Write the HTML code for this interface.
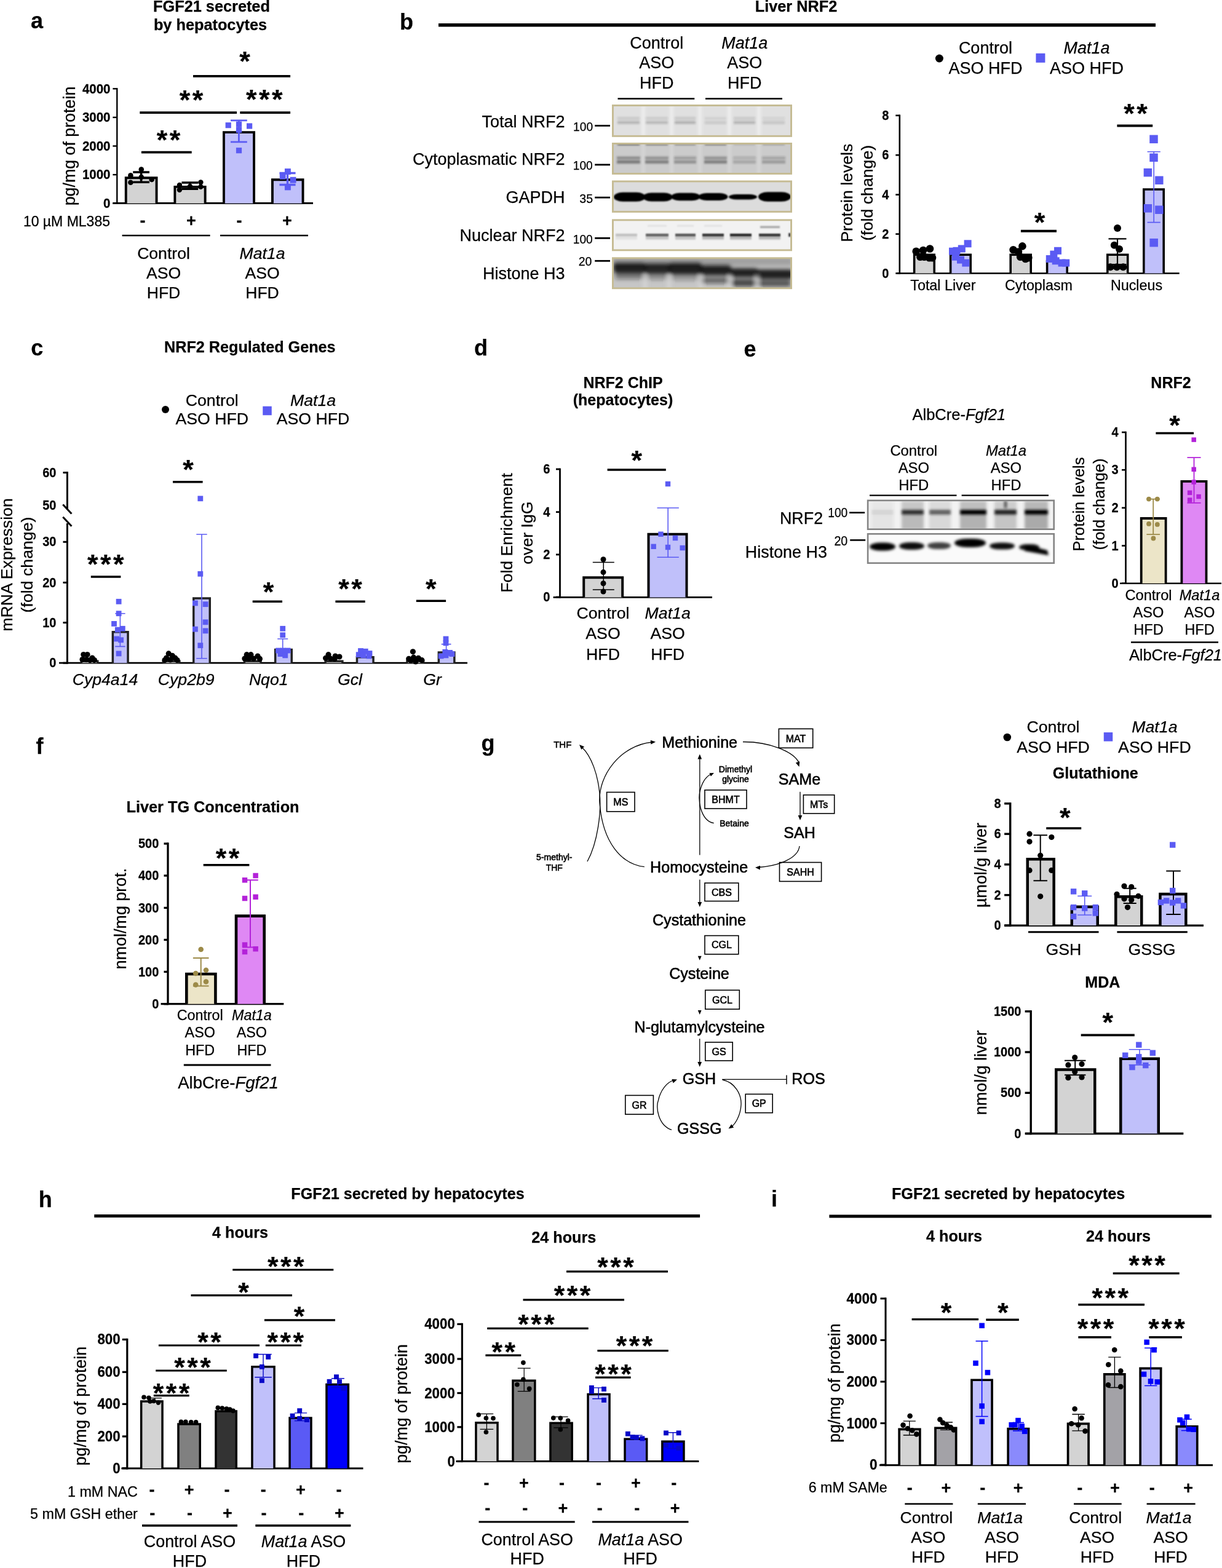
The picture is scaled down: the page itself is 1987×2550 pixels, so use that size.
<!DOCTYPE html>
<html><head><meta charset="utf-8"><title>Figure</title>
<style>html,body{margin:0;padding:0;background:#fff;}svg{display:block;}text{stroke:#000;stroke-width:0.25px;}.pw text{stroke-width:0.6px;}</style></head>
<body><svg width="1987" height="2550" viewBox="0 0 1987 2550" font-family="'Liberation Sans', Arial, Helvetica, sans-serif">
<rect width="1987" height="2550" fill="#fff"/>
<defs>
<filter id="bl2" x="-20%" y="-50%" width="140%" height="200%"><feGaussianBlur stdDeviation="2"/></filter>
<filter id="bl3" x="-20%" y="-50%" width="140%" height="200%"><feGaussianBlur stdDeviation="3"/></filter>
<filter id="bl1" x="-20%" y="-50%" width="140%" height="200%"><feGaussianBlur stdDeviation="1.2"/></filter>
<filter id="bl17" x="-20%" y="-50%" width="140%" height="200%"><feGaussianBlur stdDeviation="1.7"/></filter>
<clipPath id="cb1"><rect x="996.4" y="171.3" width="289.6" height="50.2"/></clipPath>
<clipPath id="cb2"><rect x="996.4" y="233.3" width="289.6" height="49.3"/></clipPath>
<clipPath id="cb3"><rect x="996.4" y="294.8" width="289.6" height="49.7"/></clipPath>
<clipPath id="cb4"><rect x="996.4" y="357.7" width="289.6" height="49.3"/></clipPath>
<clipPath id="cb5"><rect x="996.4" y="419.6" width="289.6" height="49.3"/></clipPath>
<clipPath id="ce1"><rect x="1411.1" y="813.9" width="302.6" height="46.8"/></clipPath>
<clipPath id="ce2"><rect x="1411.1" y="868.3" width="302.6" height="47.4"/></clipPath>
</defs>
<text x="50" y="46" font-size="36" font-weight="bold">a</text>
<text x="344" y="19" font-size="25.3" text-anchor="middle" font-weight="bold">FGF21 secreted</text>
<text x="342" y="49" font-size="25.3" text-anchor="middle" font-weight="bold">by hepatocytes</text>
<line x1="190.3" y1="143.1" x2="190.3" y2="331.9" stroke="#000" stroke-width="2.4"/>
<line x1="183.4" y1="330.7" x2="190.3" y2="330.7" stroke="#000" stroke-width="2.4"/>
<text x="179.5" y="338.08" font-size="20.5" text-anchor="end" font-weight="bold" transform="matrix(1 0 0 1.06 0 -20.28)">0</text>
<line x1="183.4" y1="284.1" x2="190.3" y2="284.1" stroke="#000" stroke-width="2.4"/>
<text x="179.5" y="291.48" font-size="20.5" text-anchor="end" font-weight="bold" transform="matrix(1 0 0 1.06 0 -17.49)">1000</text>
<line x1="183.4" y1="237.5" x2="190.3" y2="237.5" stroke="#000" stroke-width="2.4"/>
<text x="179.5" y="244.88" font-size="20.5" text-anchor="end" font-weight="bold" transform="matrix(1 0 0 1.06 0 -14.69)">2000</text>
<line x1="183.4" y1="190.9" x2="190.3" y2="190.9" stroke="#000" stroke-width="2.4"/>
<text x="179.5" y="198.28" font-size="20.5" text-anchor="end" font-weight="bold" transform="matrix(1 0 0 1.06 0 -11.9)">3000</text>
<line x1="183.4" y1="144.3" x2="190.3" y2="144.3" stroke="#000" stroke-width="2.4"/>
<text x="179.5" y="151.68" font-size="20.5" text-anchor="end" font-weight="bold" transform="matrix(1 0 0 1.06 0 -9.1)">4000</text>
<line x1="183.4" y1="330.5" x2="509" y2="330.5" stroke="#000" stroke-width="2.9"/>
<text x="122.2" y="237.5" font-size="26.8" text-anchor="middle" transform="rotate(-90 122.2 237.5)">pg/mg of protein</text>
<path d="M204.75 330.7V289.25H254.55V330.7" fill="#d3d3d3" stroke="#000" stroke-width="3.9" stroke-linejoin="miter"/>
<path d="M284.35 330.7V303.85H333.65V330.7" fill="#d3d3d3" stroke="#000" stroke-width="3.9" stroke-linejoin="miter"/>
<path d="M363.95 330.7V215.15H413.05V330.7" fill="#c0c0fa" stroke="#000" stroke-width="3.9" stroke-linejoin="miter"/>
<path d="M442.95 330.7V292.25H492.55V330.7" fill="#c0c0fa" stroke="#000" stroke-width="3.9" stroke-linejoin="miter"/>
<path d="M229.6 280V296.2M216.25 280H242.95M216.25 296.2H242.95" stroke="#000" stroke-width="3.6" fill="none"/>
<circle cx="212.4" cy="285.4" r="4.3" fill="#000"/>
<circle cx="229.8" cy="275.5" r="4.3" fill="#000"/>
<circle cx="212.4" cy="296.7" r="4.3" fill="#000"/>
<circle cx="246.7" cy="292" r="4.3" fill="#000"/>
<circle cx="229.8" cy="288" r="4.3" fill="#000"/>
<path d="M308.8 297V307.3M295.4 297H322.2M295.4 307.3H322.2" stroke="#000" stroke-width="3.5" fill="none"/>
<circle cx="291.9" cy="300.9" r="4.2" fill="#000"/>
<circle cx="291.9" cy="308.7" r="4.2" fill="#000"/>
<circle cx="326.4" cy="296.4" r="4.2" fill="#000"/>
<circle cx="326.4" cy="303.7" r="4.2" fill="#000"/>
<circle cx="309" cy="303" r="4.2" fill="#000"/>
<path d="M388.4 195.8V230.9M375 195.8H401.8M375 230.9H401.8" stroke="#5b5bf3" stroke-width="2.8" fill="none"/>
<rect x="366.6" y="199.1" width="9.2" height="9.2" fill="#5b5bf3"/>
<rect x="401" y="200.4" width="9.2" height="9.2" fill="#5b5bf3"/>
<rect x="383.9" y="197.6" width="9.2" height="9.2" fill="#5b5bf3"/>
<rect x="383.9" y="206.8" width="9.2" height="9.2" fill="#5b5bf3"/>
<rect x="383.9" y="240.1" width="9.2" height="9.2" fill="#5b5bf3"/>
<path d="M467.5 281.5V300.5M454.45 281.5H480.55M454.45 300.5H480.55" stroke="#5b5bf3" stroke-width="3.4" fill="none"/>
<rect x="462.95" y="274.05" width="9.9" height="9.9" fill="#5b5bf3"/>
<rect x="454.75" y="281.85" width="9.9" height="9.9" fill="#5b5bf3"/>
<rect x="471.65" y="287.75" width="9.9" height="9.9" fill="#5b5bf3"/>
<rect x="462.95" y="299.45" width="9.9" height="9.9" fill="#5b5bf3"/>
<line x1="229.9" y1="247.7" x2="311.7" y2="247.7" stroke="#000" stroke-width="3.7"/>
<text x="263.4" y="242.65" font-size="45" text-anchor="middle" font-weight="bold">*</text>
<text x="284.4" y="242.65" font-size="45" text-anchor="middle" font-weight="bold">*</text>
<line x1="227.3" y1="183.1" x2="385" y2="183.1" stroke="#000" stroke-width="3.7"/>
<text x="300.5" y="177.75" font-size="45" text-anchor="middle" font-weight="bold">*</text>
<text x="321.5" y="177.75" font-size="45" text-anchor="middle" font-weight="bold">*</text>
<line x1="390.3" y1="183.1" x2="472.1" y2="183.1" stroke="#000" stroke-width="3.7"/>
<text x="408.7" y="177.05" font-size="45" text-anchor="middle" font-weight="bold">*</text>
<text x="429.7" y="177.05" font-size="45" text-anchor="middle" font-weight="bold">*</text>
<text x="450.7" y="177.05" font-size="45" text-anchor="middle" font-weight="bold">*</text>
<line x1="314" y1="123.8" x2="472.1" y2="123.8" stroke="#000" stroke-width="3.7"/>
<text x="397.9" y="115.15" font-size="45" text-anchor="middle" font-weight="bold">*</text>
<text x="179" y="368" font-size="23" text-anchor="end">10 µM ML385</text>
<text x="232" y="368.2" font-size="27" text-anchor="middle" font-weight="bold">-</text>
<text x="311" y="368.2" font-size="27" text-anchor="middle" font-weight="bold">+</text>
<text x="389" y="368.2" font-size="27" text-anchor="middle" font-weight="bold">-</text>
<text x="467" y="368.2" font-size="27" text-anchor="middle" font-weight="bold">+</text>
<line x1="198.6" y1="383" x2="341.6" y2="383" stroke="#000" stroke-width="2.6"/>
<line x1="358" y1="383" x2="501" y2="383" stroke="#000" stroke-width="2.6"/>
<text x="266" y="421" font-size="26.6" text-anchor="middle">Control</text>
<text x="266" y="453" font-size="26.6" text-anchor="middle">ASO</text>
<text x="266" y="485" font-size="26.6" text-anchor="middle">HFD</text>
<text x="426.5" y="421" font-size="26.6" text-anchor="middle" font-style="italic">Mat1a</text>
<text x="426.5" y="453" font-size="26.6" text-anchor="middle">ASO</text>
<text x="426.5" y="485" font-size="26.6" text-anchor="middle">HFD</text>
<text x="650" y="48" font-size="36" font-weight="bold">b</text>
<line x1="713" y1="40.8" x2="1879" y2="40.8" stroke="#000" stroke-width="5.6"/>
<text x="1294.5" y="18.5" font-size="25.3" text-anchor="middle" font-weight="bold">Liver NRF2</text>
<text x="1067.7" y="79.3" font-size="27" text-anchor="middle">Control</text>
<text x="1067.7" y="111.4" font-size="27" text-anchor="middle">ASO</text>
<text x="1067.7" y="143.5" font-size="27" text-anchor="middle">HFD</text>
<text x="1210.8" y="79.3" font-size="27" text-anchor="middle" font-style="italic">Mat1a</text>
<text x="1210.8" y="111.4" font-size="27" text-anchor="middle">ASO</text>
<text x="1210.8" y="143.5" font-size="27" text-anchor="middle">HFD</text>
<line x1="1004.5" y1="160.5" x2="1129.3" y2="160.5" stroke="#000" stroke-width="2.6"/>
<line x1="1147" y1="160.5" x2="1272" y2="160.5" stroke="#000" stroke-width="2.6"/>
<text x="918.6" y="207.4" font-size="27" text-anchor="end">Total NRF2</text>
<text x="918.6" y="267.5" font-size="27" text-anchor="end">Cytoplasmatic NRF2</text>
<text x="918.6" y="329.6" font-size="27" text-anchor="end">GAPDH</text>
<text x="918.6" y="391.6" font-size="27" text-anchor="end">Nuclear NRF2</text>
<text x="918.6" y="453.7" font-size="27" text-anchor="end">Histone H3</text>
<text x="932.1" y="212.5" font-size="21" textLength="32" lengthAdjust="spacingAndGlyphs">100</text>
<line x1="967.2" y1="204.4" x2="992" y2="204.4" stroke="#000" stroke-width="2.8"/>
<text x="931.8" y="276" font-size="21" textLength="32" lengthAdjust="spacingAndGlyphs">100</text>
<line x1="967.2" y1="267.9" x2="992" y2="267.9" stroke="#000" stroke-width="2.8"/>
<text x="942.3" y="329.6" font-size="21" textLength="21.7" lengthAdjust="spacingAndGlyphs">35</text>
<line x1="967.2" y1="321.2" x2="992" y2="321.2" stroke="#000" stroke-width="2.8"/>
<text x="931.8" y="395.5" font-size="21" textLength="32" lengthAdjust="spacingAndGlyphs">100</text>
<line x1="967.2" y1="387.3" x2="992" y2="387.3" stroke="#000" stroke-width="2.8"/>
<text x="940.7" y="432" font-size="21" textLength="21.7" lengthAdjust="spacingAndGlyphs">20</text>
<line x1="967.2" y1="424.3" x2="992" y2="424.3" stroke="#000" stroke-width="2.8"/>
<rect x="996.4" y="171.3" width="289.6" height="50.2" fill="#e0e0e0"/>
<rect x="996.4" y="233.3" width="289.6" height="49.3" fill="#cbcbcb"/>
<rect x="996.4" y="294.8" width="289.6" height="49.7" fill="#dcdcdc"/>
<rect x="996.4" y="357.7" width="289.6" height="49.3" fill="#f2f2f2"/>
<rect x="996.4" y="419.6" width="289.6" height="49.3" fill="#c6c6c6"/>
<g clip-path="url(#cb1)"><g filter="url(#bl2)">
<rect x="1043" y="172" width="6" height="50" fill="#ededed"/>
<rect x="1089" y="172" width="6" height="50" fill="#ededed"/>
<rect x="1135" y="172" width="6" height="50" fill="#ededed"/>
<rect x="1183" y="172" width="6" height="50" fill="#ededed"/>
<rect x="1231" y="172" width="6" height="50" fill="#ededed"/>
</g><g filter="url(#bl17)">
<rect x="1004" y="190.5" width="36" height="4" fill="rgba(40,40,40,0.14)"/>
<rect x="1004" y="197" width="36" height="4.5" fill="rgba(40,40,40,0.23800000000000002)"/>
<rect x="1050" y="190.5" width="36" height="4" fill="rgba(40,40,40,0.13)"/>
<rect x="1050" y="197" width="36" height="4.5" fill="rgba(40,40,40,0.221)"/>
<rect x="1097" y="190.5" width="34" height="4" fill="rgba(40,40,40,0.15)"/>
<rect x="1097" y="197" width="34" height="4.5" fill="rgba(40,40,40,0.255)"/>
<rect x="1146" y="190.5" width="35" height="4" fill="rgba(40,40,40,0.08)"/>
<rect x="1146" y="197" width="35" height="4.5" fill="rgba(40,40,40,0.136)"/>
<rect x="1193" y="190.5" width="35" height="4" fill="rgba(40,40,40,0.14)"/>
<rect x="1193" y="197" width="35" height="4.5" fill="rgba(40,40,40,0.23800000000000002)"/>
<rect x="1240" y="190.5" width="36" height="4" fill="rgba(40,40,40,0.09)"/>
<rect x="1240" y="197" width="36" height="4.5" fill="rgba(40,40,40,0.153)"/>
</g></g>
<g clip-path="url(#cb2)"><g filter="url(#bl2)">
<rect x="1043" y="234" width="6" height="50" fill="#d4d4d4"/>
<rect x="1089" y="234" width="6" height="50" fill="#d4d4d4"/>
<rect x="1135" y="234" width="6" height="50" fill="#d4d4d4"/>
<rect x="1183" y="234" width="6" height="50" fill="#d4d4d4"/>
<rect x="1231" y="234" width="6" height="50" fill="#d4d4d4"/>
</g><g filter="url(#bl17)">
<rect x="1004" y="233" width="36" height="3" fill="rgba(20,20,20,0.6)"/>
<rect x="1003" y="254.5" width="38" height="4.5" fill="rgba(40,40,40,0.4)"/>
<rect x="1003" y="260.5" width="38" height="5.5" fill="rgba(40,40,40,0.5)"/>
<rect x="1050" y="233" width="36" height="3" fill="rgba(20,20,20,0.5)"/>
<rect x="1049" y="254.5" width="38" height="4.5" fill="rgba(40,40,40,0.36000000000000004)"/>
<rect x="1049" y="260.5" width="38" height="5.5" fill="rgba(40,40,40,0.45)"/>
<rect x="1097" y="233" width="34" height="3" fill="rgba(20,20,20,0.4)"/>
<rect x="1096" y="254.5" width="36" height="4.5" fill="rgba(40,40,40,0.27999999999999997)"/>
<rect x="1096" y="260.5" width="36" height="5.5" fill="rgba(40,40,40,0.35)"/>
<rect x="1146" y="233" width="35" height="3" fill="rgba(20,20,20,0.5)"/>
<rect x="1145" y="254.5" width="37" height="4.5" fill="rgba(40,40,40,0.36000000000000004)"/>
<rect x="1145" y="260.5" width="37" height="5.5" fill="rgba(40,40,40,0.45)"/>
<rect x="1193" y="233" width="35" height="3" fill="rgba(20,20,20,0.15)"/>
<rect x="1192" y="254.5" width="37" height="4.5" fill="rgba(40,40,40,0.17600000000000002)"/>
<rect x="1192" y="260.5" width="37" height="5.5" fill="rgba(40,40,40,0.22)"/>
<rect x="1240" y="233" width="36" height="3" fill="rgba(20,20,20,0.25)"/>
<rect x="1239" y="254.5" width="38" height="4.5" fill="rgba(40,40,40,0.24)"/>
<rect x="1239" y="260.5" width="38" height="5.5" fill="rgba(40,40,40,0.3)"/>
</g></g>
<g clip-path="url(#cb3)"><g filter="url(#bl1)">
<rect x="998" y="312.8" width="51.5" height="15" rx="14.714285714285714" ry="7.5" fill="#000"/>
<rect x="1045.5" y="313.5" width="48.0" height="14" rx="13.714285714285714" ry="7.0" fill="#000"/>
<rect x="1091.5" y="313.75" width="47.0" height="12.5" rx="13.428571428571429" ry="6.25" fill="#000"/>
<rect x="1135.5" y="314.0" width="48.0" height="12" rx="13.714285714285714" ry="6.0" fill="#000"/>
<rect x="1185" y="316.05" width="46" height="8.5" rx="13.142857142857142" ry="4.25" fill="#000"/>
<rect x="1233" y="312.25" width="53" height="15.5" rx="15.142857142857142" ry="7.75" fill="#000"/>
</g></g>
<g clip-path="url(#cb4)"><g filter="url(#bl1)">
<rect x="1001" y="380" width="35" height="4.5" fill="rgba(0,0,0,0.2)"/>
<rect x="1001" y="385" width="35" height="4.5" fill="rgba(40,40,40,0.06999999999999999)"/>
<rect x="1050" y="380" width="37" height="4.5" fill="rgba(0,0,0,0.6)"/>
<rect x="1050" y="385" width="37" height="4.5" fill="rgba(40,40,40,0.21)"/>
<rect x="1053" y="366" width="31" height="2.5" fill="rgba(0,0,0,0.08)"/>
<rect x="1098" y="380" width="33" height="4.5" fill="rgba(0,0,0,0.65)"/>
<rect x="1098" y="385" width="33" height="4.5" fill="rgba(40,40,40,0.22749999999999998)"/>
<rect x="1101" y="366" width="27" height="2.5" fill="rgba(0,0,0,0.08)"/>
<rect x="1142" y="380" width="35" height="4.5" fill="rgba(0,0,0,0.8)"/>
<rect x="1142" y="385" width="35" height="4.5" fill="rgba(40,40,40,0.27999999999999997)"/>
<rect x="1145" y="366" width="29" height="2.5" fill="rgba(0,0,0,0.08)"/>
<rect x="1187" y="380" width="35" height="4.5" fill="rgba(0,0,0,0.85)"/>
<rect x="1187" y="385" width="35" height="4.5" fill="rgba(40,40,40,0.2975)"/>
<rect x="1234" y="380" width="35" height="4.5" fill="rgba(0,0,0,0.8)"/>
<rect x="1234" y="385" width="35" height="4.5" fill="rgba(40,40,40,0.27999999999999997)"/>
<rect x="1236" y="367.5" width="32" height="3.5" fill="rgba(0,0,0,0.3)"/>
<rect x="1282" y="379" width="5" height="6" fill="rgba(0,0,0,0.7)"/>
</g></g>
<g clip-path="url(#cb5)"><g filter="url(#bl3)">
<rect x="996" y="418" width="292" height="14" fill="rgba(90,90,90,0.35)"/>
<rect x="997" y="427" width="53" height="17" rx="5" fill="rgba(10,10,10,0.9)"/>
<rect x="1047" y="428" width="43" height="17" rx="5" fill="rgba(10,10,10,0.88)"/>
<rect x="1087" y="427" width="54" height="19" rx="5" fill="rgba(10,10,10,0.9)"/>
<rect x="1138" y="431" width="51" height="17" rx="5" fill="rgba(10,10,10,0.9)"/>
<rect x="1187" y="436" width="46" height="15" rx="5" fill="rgba(10,10,10,0.9)"/>
<rect x="1230" y="438" width="60" height="16" rx="5" fill="rgba(10,10,10,0.9)"/>
<rect x="1000" y="444" width="48" height="10" rx="4" fill="rgba(20,20,20,0.45)"/>
<rect x="1050" y="445" width="37" height="10" rx="4" fill="rgba(20,20,20,0.35)"/>
<rect x="1090" y="446" width="48" height="10" rx="4" fill="rgba(20,20,20,0.3)"/>
<rect x="1140" y="451" width="46" height="10" rx="4" fill="rgba(20,20,20,0.55)"/>
<rect x="1189" y="454" width="41" height="12" rx="4" fill="rgba(20,20,20,0.7)"/>
<rect x="1232" y="456" width="54" height="10" rx="4" fill="rgba(20,20,20,0.65)"/>
<rect x="1046" y="448" width="6" height="24" fill="rgba(230,230,230,0.5)"/>
<rect x="1085" y="448" width="6" height="24" fill="rgba(230,230,230,0.5)"/>
<rect x="1136" y="448" width="6" height="24" fill="rgba(230,230,230,0.5)"/>
<rect x="1184" y="448" width="6" height="24" fill="rgba(230,230,230,0.5)"/>
<rect x="1228" y="448" width="6" height="24" fill="rgba(230,230,230,0.5)"/>
</g></g>
<rect x="996.45" y="171.45" width="290.1" height="49.9" fill="none" stroke="#c5bb93" stroke-width="2.9"/>
<rect x="996.45" y="233.45" width="290.1" height="49" fill="none" stroke="#c5bb93" stroke-width="2.9"/>
<rect x="996.45" y="294.95" width="290.1" height="49.4" fill="none" stroke="#c5bb93" stroke-width="2.9"/>
<rect x="996.45" y="357.85" width="290.1" height="49" fill="none" stroke="#c5bb93" stroke-width="2.9"/>
<rect x="996.45" y="419.75" width="290.1" height="49" fill="none" stroke="#c5bb93" stroke-width="2.9"/>
<circle cx="1527.4" cy="95" r="6.5" fill="#000"/>
<text x="1602.4" y="87.2" font-size="27" text-anchor="middle">Control</text>
<text x="1602.4" y="119.7" font-size="27" text-anchor="middle">ASO HFD</text>
<rect x="1684.4" y="86.8" width="15" height="15" fill="#5b5bf3"/>
<text x="1767" y="87.2" font-size="27" text-anchor="middle" font-style="italic">Mat1a</text>
<text x="1767" y="119.7" font-size="27" text-anchor="middle">ASO HFD</text>
<line x1="1462.8" y1="186.5" x2="1462.8" y2="445.8" stroke="#000" stroke-width="2.6"/>
<line x1="1456.3" y1="444.5" x2="1462.8" y2="444.5" stroke="#000" stroke-width="2.6"/>
<text x="1445.4" y="451.7" font-size="20" text-anchor="end" font-weight="bold" transform="matrix(1 0 0 1.06 0 -27.1)">0</text>
<line x1="1456.3" y1="380.6" x2="1462.8" y2="380.6" stroke="#000" stroke-width="2.6"/>
<text x="1445.4" y="387.8" font-size="20" text-anchor="end" font-weight="bold" transform="matrix(1 0 0 1.06 0 -23.27)">2</text>
<line x1="1456.3" y1="316.6" x2="1462.8" y2="316.6" stroke="#000" stroke-width="2.6"/>
<text x="1445.4" y="323.8" font-size="20" text-anchor="end" font-weight="bold" transform="matrix(1 0 0 1.06 0 -19.43)">4</text>
<line x1="1456.3" y1="252.2" x2="1462.8" y2="252.2" stroke="#000" stroke-width="2.6"/>
<text x="1445.4" y="259.4" font-size="20" text-anchor="end" font-weight="bold" transform="matrix(1 0 0 1.06 0 -15.56)">6</text>
<line x1="1456.3" y1="187.8" x2="1462.8" y2="187.8" stroke="#000" stroke-width="2.6"/>
<text x="1445.4" y="195" font-size="20" text-anchor="end" font-weight="bold" transform="matrix(1 0 0 1.06 0 -11.7)">8</text>
<line x1="1458.6" y1="444.5" x2="1917.7" y2="444.5" stroke="#000" stroke-width="2.6"/>
<text x="1386" y="313.7" font-size="26.7" text-anchor="middle" transform="rotate(-90 1386 313.7)">Protein levels</text>
<text x="1419" y="313.7" font-size="26.7" text-anchor="middle" transform="rotate(-90 1419 313.7)">(fold change)</text>
<text x="1533.4" y="471.5" font-size="23.3" text-anchor="middle">Total Liver</text>
<text x="1689" y="471.5" font-size="23.3" text-anchor="middle">Cytoplasm</text>
<text x="1848" y="471.5" font-size="23.3" text-anchor="middle">Nucleus</text>
<path d="M1486.6 444.5V414.3H1519.2V444.5" fill="#d3d3d3" stroke="#000" stroke-width="3.6" stroke-linejoin="miter"/>
<path d="M1545.6 444.5V414.3H1578.2V444.5" fill="#c0c0fa" stroke="#000" stroke-width="3.6" stroke-linejoin="miter"/>
<path d="M1643.2 444.5V414.3H1676.2V444.5" fill="#d3d3d3" stroke="#000" stroke-width="3.6" stroke-linejoin="miter"/>
<path d="M1702.6 444.5V424.8H1735.2V444.5" fill="#c0c0fa" stroke="#000" stroke-width="3.6" stroke-linejoin="miter"/>
<path d="M1800.8 444.5V414.3H1833.7V444.5" fill="#d3d3d3" stroke="#000" stroke-width="3.6" stroke-linejoin="miter"/>
<path d="M1859.8 444.5V308H1892.2V444.5" fill="#c0c0fa" stroke="#000" stroke-width="3.6" stroke-linejoin="miter"/>
<circle cx="1489.7" cy="408.7" r="6.3" fill="#000"/>
<circle cx="1496.3" cy="417.7" r="6.3" fill="#000"/>
<circle cx="1501.2" cy="407" r="6.3" fill="#000"/>
<circle cx="1502.9" cy="417.7" r="6.3" fill="#000"/>
<circle cx="1512" cy="404.5" r="6.3" fill="#000"/>
<circle cx="1511" cy="419.3" r="6.3" fill="#000"/>
<circle cx="1516" cy="419.3" r="6.3" fill="#000"/>
<rect x="1543" y="402.7" width="12" height="12" fill="#5b5bf3"/>
<rect x="1549.5" y="401.8" width="12" height="12" fill="#5b5bf3"/>
<rect x="1557.8" y="398.5" width="12" height="12" fill="#5b5bf3"/>
<rect x="1567.6" y="390.3" width="12" height="12" fill="#5b5bf3"/>
<rect x="1547.9" y="411.7" width="12" height="12" fill="#5b5bf3"/>
<rect x="1556" y="416.6" width="12" height="12" fill="#5b5bf3"/>
<rect x="1564.3" y="421.6" width="12" height="12" fill="#5b5bf3"/>
<circle cx="1647.6" cy="406.2" r="6.3" fill="#000"/>
<circle cx="1655.9" cy="409.5" r="6.3" fill="#000"/>
<circle cx="1662.4" cy="400.4" r="6.3" fill="#000"/>
<circle cx="1659.1" cy="417.7" r="6.3" fill="#000"/>
<circle cx="1667.4" cy="421" r="6.3" fill="#000"/>
<circle cx="1672.3" cy="419.3" r="6.3" fill="#000"/>
<rect x="1714" y="401.8" width="12" height="12" fill="#5b5bf3"/>
<rect x="1707.4" y="407.6" width="12" height="12" fill="#5b5bf3"/>
<rect x="1700.8" y="415" width="12" height="12" fill="#5b5bf3"/>
<rect x="1710.7" y="418.3" width="12" height="12" fill="#5b5bf3"/>
<rect x="1720.6" y="421.6" width="12" height="12" fill="#5b5bf3"/>
<rect x="1727.2" y="421.6" width="12" height="12" fill="#5b5bf3"/>
<path d="M1817 388.4V430M1802.5 388.4H1831.5M1802.5 430H1831.5" stroke="#000" stroke-width="2.2" fill="none"/>
<circle cx="1817" cy="371" r="6" fill="#000"/>
<circle cx="1811.8" cy="398.8" r="6" fill="#000"/>
<circle cx="1820" cy="405" r="6" fill="#000"/>
<circle cx="1805.5" cy="434.2" r="6" fill="#000"/>
<circle cx="1816" cy="434.2" r="6" fill="#000"/>
<circle cx="1826.3" cy="434.2" r="6" fill="#000"/>
<path d="M1876.2 246.7V361.6M1865.6 246.7H1886.8M1865.6 361.6H1886.8" stroke="#5b5bf3" stroke-width="1.6" fill="none"/>
<rect x="1869.25" y="219.55" width="13.5" height="13.5" fill="#5b5bf3"/>
<rect x="1869.25" y="249.55" width="13.5" height="13.5" fill="#5b5bf3"/>
<rect x="1859.65" y="273.85" width="13.5" height="13.5" fill="#5b5bf3"/>
<rect x="1878.05" y="286.45" width="13.5" height="13.5" fill="#5b5bf3"/>
<rect x="1859.65" y="332.05" width="13.5" height="13.5" fill="#5b5bf3"/>
<rect x="1878.05" y="334.45" width="13.5" height="13.5" fill="#5b5bf3"/>
<rect x="1869.45" y="387.95" width="13.5" height="13.5" fill="#5b5bf3"/>
<line x1="1659.9" y1="375.7" x2="1718" y2="375.7" stroke="#000" stroke-width="4"/>
<text x="1690.6" y="376.65" font-size="45" text-anchor="middle" font-weight="bold">*</text>
<line x1="1816.4" y1="204.4" x2="1874.2" y2="204.4" stroke="#000" stroke-width="4"/>
<text x="1835.9" y="200.45" font-size="45" text-anchor="middle" font-weight="bold">*</text>
<text x="1856.9" y="200.45" font-size="45" text-anchor="middle" font-weight="bold">*</text>
<text x="50.2" y="577.5" font-size="36" font-weight="bold">c</text>
<text x="406.3" y="573.3" font-size="25.2" text-anchor="middle" font-weight="bold">NRF2 Regulated Genes</text>
<circle cx="269" cy="666" r="6" fill="#000"/>
<text x="344.7" y="659.5" font-size="26.7" text-anchor="middle">Control</text>
<text x="344.7" y="690" font-size="26.7" text-anchor="middle">ASO HFD</text>
<rect x="427.25" y="660.75" width="14.5" height="14.5" fill="#5b5bf3"/>
<text x="509" y="659.5" font-size="26.7" text-anchor="middle" font-style="italic">Mat1a</text>
<text x="509" y="690" font-size="26.7" text-anchor="middle">ASO HFD</text>
<line x1="109.4" y1="767.1" x2="109.4" y2="829" stroke="#000" stroke-width="3"/>
<line x1="109.4" y1="851" x2="109.4" y2="1079.7" stroke="#000" stroke-width="3"/>
<line x1="102.5" y1="768.6" x2="109.4" y2="768.6" stroke="#000" stroke-width="3"/>
<text x="91.5" y="775.8" font-size="20" text-anchor="end" font-weight="bold" transform="matrix(1 0 0 1.06 0 -46.55)">60</text>
<text x="91.5" y="829.5" font-size="20" text-anchor="end" font-weight="bold" transform="matrix(1 0 0 1.06 0 -49.77)">50</text>
<line x1="102.5" y1="881.3" x2="109.4" y2="881.3" stroke="#000" stroke-width="3"/>
<text x="91.5" y="888.5" font-size="20" text-anchor="end" font-weight="bold" transform="matrix(1 0 0 1.06 0 -53.31)">30</text>
<line x1="102.5" y1="947.4" x2="109.4" y2="947.4" stroke="#000" stroke-width="3"/>
<text x="91.5" y="954.6" font-size="20" text-anchor="end" font-weight="bold" transform="matrix(1 0 0 1.06 0 -57.28)">20</text>
<line x1="102.5" y1="1012.6" x2="109.4" y2="1012.6" stroke="#000" stroke-width="3"/>
<text x="91.5" y="1019.8" font-size="20" text-anchor="end" font-weight="bold" transform="matrix(1 0 0 1.06 0 -61.19)">10</text>
<line x1="102.5" y1="1078.2" x2="109.4" y2="1078.2" stroke="#000" stroke-width="3"/>
<text x="91.5" y="1085.4" font-size="20" text-anchor="end" font-weight="bold" transform="matrix(1 0 0 1.06 0 -65.12)">0</text>
<line x1="102.3" y1="820.5" x2="116.4" y2="835.5" stroke="#000" stroke-width="3"/>
<line x1="102.3" y1="840.8" x2="116.4" y2="855.8" stroke="#000" stroke-width="3"/>
<line x1="96" y1="1078.2" x2="760" y2="1078.2" stroke="#000" stroke-width="2.8"/>
<text x="20" y="918.5" font-size="26.7" text-anchor="middle" transform="rotate(-90 20 918.5)">mRNA Expression</text>
<text x="53" y="918.5" font-size="26.7" text-anchor="middle" transform="rotate(-90 53 918.5)">(fold change)</text>
<path d="M132.25 1078.2V1075.25H158.75V1078.2" fill="#d3d3d3" stroke="#222" stroke-width="3.5" stroke-linejoin="miter"/>
<path d="M183.35 1078.2V1027.65H208.05V1078.2" fill="#c0c0fa" stroke="#222" stroke-width="3.5" stroke-linejoin="miter"/>
<path d="M265.35 1078.2V1075.25H291.85V1078.2" fill="#d3d3d3" stroke="#222" stroke-width="3.5" stroke-linejoin="miter"/>
<path d="M314.75 1078.2V972.95H341.25V1078.2" fill="#c0c0fa" stroke="#222" stroke-width="3.5" stroke-linejoin="miter"/>
<path d="M397.35 1078.2V1075.25H424.05V1078.2" fill="#d3d3d3" stroke="#222" stroke-width="3.5" stroke-linejoin="miter"/>
<path d="M447.65 1078.2V1056.45H474.25V1078.2" fill="#c0c0fa" stroke="#222" stroke-width="3.5" stroke-linejoin="miter"/>
<path d="M529.15 1078.2V1075.25H556.85V1078.2" fill="#d3d3d3" stroke="#222" stroke-width="3.5" stroke-linejoin="miter"/>
<path d="M580.45 1078.2V1068.75H607.05V1078.2" fill="#c0c0fa" stroke="#222" stroke-width="3.5" stroke-linejoin="miter"/>
<path d="M661.95 1078.2V1075.25H688.55V1078.2" fill="#d3d3d3" stroke="#222" stroke-width="3.5" stroke-linejoin="miter"/>
<path d="M713.35 1078.2V1060.95H738.85V1078.2" fill="#c0c0fa" stroke="#222" stroke-width="3.5" stroke-linejoin="miter"/>
<text x="171" y="1114" font-size="26.6" text-anchor="middle" font-style="italic">Cyp4a14</text>
<text x="302.7" y="1114" font-size="26.6" text-anchor="middle" font-style="italic">Cyp2b9</text>
<text x="436.7" y="1114" font-size="26.6" text-anchor="middle" font-style="italic">Nqo1</text>
<text x="569" y="1114" font-size="26.6" text-anchor="middle" font-style="italic">Gcl</text>
<text x="703" y="1114" font-size="26.6" text-anchor="middle" font-style="italic">Gr</text>
<circle cx="135.8" cy="1064.6" r="4.6" fill="#000"/>
<circle cx="142" cy="1064.6" r="4.6" fill="#000"/>
<circle cx="150" cy="1070" r="4.6" fill="#000"/>
<circle cx="134" cy="1072.6" r="4.6" fill="#000"/>
<circle cx="140.2" cy="1072.6" r="4.6" fill="#000"/>
<circle cx="146.4" cy="1073.5" r="4.6" fill="#000"/>
<circle cx="153.4" cy="1073.5" r="4.6" fill="#000"/>
<circle cx="274.2" cy="1062.9" r="4.6" fill="#000"/>
<circle cx="280.3" cy="1066.4" r="4.6" fill="#000"/>
<circle cx="284.7" cy="1070" r="4.6" fill="#000"/>
<circle cx="270.6" cy="1070" r="4.6" fill="#000"/>
<circle cx="277" cy="1073" r="4.6" fill="#000"/>
<circle cx="288" cy="1073.5" r="4.6" fill="#000"/>
<circle cx="268" cy="1073.5" r="4.6" fill="#000"/>
<circle cx="401.2" cy="1064.7" r="4.6" fill="#000"/>
<circle cx="407.9" cy="1064.7" r="4.6" fill="#000"/>
<circle cx="419" cy="1067" r="4.6" fill="#000"/>
<circle cx="397.9" cy="1071" r="4.6" fill="#000"/>
<circle cx="404.6" cy="1071" r="4.6" fill="#000"/>
<circle cx="412.4" cy="1071" r="4.6" fill="#000"/>
<circle cx="422.4" cy="1071.4" r="4.6" fill="#000"/>
<circle cx="534" cy="1064.7" r="4.6" fill="#000"/>
<circle cx="545.2" cy="1067" r="4.6" fill="#000"/>
<circle cx="551.9" cy="1068" r="4.6" fill="#000"/>
<circle cx="529.6" cy="1070.3" r="4.6" fill="#000"/>
<circle cx="537.4" cy="1071" r="4.6" fill="#000"/>
<circle cx="544.1" cy="1071.4" r="4.6" fill="#000"/>
<circle cx="671.4" cy="1059.8" r="4.6" fill="#000"/>
<circle cx="664.7" cy="1071.4" r="4.6" fill="#000"/>
<circle cx="672.5" cy="1069.2" r="4.6" fill="#000"/>
<circle cx="680.3" cy="1070.3" r="4.6" fill="#000"/>
<circle cx="685.9" cy="1073.7" r="4.6" fill="#000"/>
<circle cx="675.8" cy="1075.9" r="4.6" fill="#000"/>
<circle cx="668" cy="1074" r="4.6" fill="#000"/>
<path d="M195.4 997.7V1051.4M187.2 997.7H203.6M187.2 1051.4H203.6" stroke="#5b5bf3" stroke-width="1.6" fill="none"/>
<rect x="188.7" y="973.9" width="8.8" height="8.8" fill="#5b5bf3"/>
<rect x="188.7" y="993.3" width="8.8" height="8.8" fill="#5b5bf3"/>
<rect x="181.1" y="1010" width="8.8" height="8.8" fill="#5b5bf3"/>
<rect x="194.9" y="1017.9" width="8.8" height="8.8" fill="#5b5bf3"/>
<rect x="186.9" y="1019.7" width="8.8" height="8.8" fill="#5b5bf3"/>
<rect x="185.2" y="1034.6" width="8.8" height="8.8" fill="#5b5bf3"/>
<rect x="192.2" y="1036.4" width="8.8" height="8.8" fill="#5b5bf3"/>
<rect x="188.7" y="1058.5" width="8.8" height="8.8" fill="#5b5bf3"/>
<path d="M328 869V1070.8M319.3 869H336.7M319.3 1070.8H336.7" stroke="#5b5bf3" stroke-width="1.6" fill="none"/>
<rect x="321.4" y="806.4" width="8.8" height="8.8" fill="#5b5bf3"/>
<rect x="321.4" y="928.9" width="8.8" height="8.8" fill="#5b5bf3"/>
<rect x="313" y="976.5" width="8.8" height="8.8" fill="#5b5bf3"/>
<rect x="329.7" y="978.3" width="8.8" height="8.8" fill="#5b5bf3"/>
<rect x="329.7" y="1007.4" width="8.8" height="8.8" fill="#5b5bf3"/>
<rect x="313" y="1018.8" width="8.8" height="8.8" fill="#5b5bf3"/>
<rect x="329.7" y="1021.5" width="8.8" height="8.8" fill="#5b5bf3"/>
<rect x="321.4" y="1045.3" width="8.8" height="8.8" fill="#5b5bf3"/>
<path d="M459.7 1039V1062M451.2 1039H468.2M451.2 1062H468.2" stroke="#5b5bf3" stroke-width="1.6" fill="none"/>
<rect x="455.3" y="1017.9" width="8.8" height="8.8" fill="#5b5bf3"/>
<rect x="455.3" y="1028.4" width="8.8" height="8.8" fill="#5b5bf3"/>
<rect x="448.2" y="1053.6" width="8.8" height="8.8" fill="#5b5bf3"/>
<rect x="456" y="1053.6" width="8.8" height="8.8" fill="#5b5bf3"/>
<rect x="463.8" y="1053.6" width="8.8" height="8.8" fill="#5b5bf3"/>
<rect x="451.5" y="1059.2" width="8.8" height="8.8" fill="#5b5bf3"/>
<rect x="459.3" y="1061.5" width="8.8" height="8.8" fill="#5b5bf3"/>
<rect x="582.1" y="1054.1" width="8.8" height="8.8" fill="#5b5bf3"/>
<rect x="589.9" y="1054.8" width="8.8" height="8.8" fill="#5b5bf3"/>
<rect x="596.6" y="1058.1" width="8.8" height="8.8" fill="#5b5bf3"/>
<rect x="578.8" y="1060.3" width="8.8" height="8.8" fill="#5b5bf3"/>
<rect x="586.6" y="1061.5" width="8.8" height="8.8" fill="#5b5bf3"/>
<rect x="595.5" y="1062.6" width="8.8" height="8.8" fill="#5b5bf3"/>
<path d="M725.6 1047.6V1066M717.75 1047.6H733.45M717.75 1066H733.45" stroke="#5b5bf3" stroke-width="1.6" fill="none"/>
<rect x="720.6" y="1034.6" width="8.8" height="8.8" fill="#5b5bf3"/>
<rect x="720.6" y="1041.4" width="8.8" height="8.8" fill="#5b5bf3"/>
<rect x="719.4" y="1055.9" width="8.8" height="8.8" fill="#5b5bf3"/>
<rect x="727.2" y="1057" width="8.8" height="8.8" fill="#5b5bf3"/>
<rect x="712.7" y="1062.6" width="8.8" height="8.8" fill="#5b5bf3"/>
<rect x="720.6" y="1061.5" width="8.8" height="8.8" fill="#5b5bf3"/>
<rect x="730.6" y="1059.2" width="8.8" height="8.8" fill="#5b5bf3"/>
<line x1="147.8" y1="938.1" x2="196.4" y2="938.1" stroke="#000" stroke-width="3.5"/>
<text x="150.7" y="932.65" font-size="45" text-anchor="middle" font-weight="bold">*</text>
<text x="171.7" y="932.65" font-size="45" text-anchor="middle" font-weight="bold">*</text>
<text x="192.7" y="932.65" font-size="45" text-anchor="middle" font-weight="bold">*</text>
<line x1="281" y1="783.7" x2="329.6" y2="783.7" stroke="#000" stroke-width="3.5"/>
<text x="306" y="779.35" font-size="45" text-anchor="middle" font-weight="bold">*</text>
<line x1="410.7" y1="978.3" x2="459" y2="978.3" stroke="#000" stroke-width="3.5"/>
<text x="436.5" y="977.85" font-size="45" text-anchor="middle" font-weight="bold">*</text>
<line x1="545.4" y1="978.3" x2="593.7" y2="978.3" stroke="#000" stroke-width="3.5"/>
<text x="558.9" y="972.55" font-size="45" text-anchor="middle" font-weight="bold">*</text>
<text x="579.9" y="972.55" font-size="45" text-anchor="middle" font-weight="bold">*</text>
<line x1="676.8" y1="977.2" x2="725.1" y2="977.2" stroke="#000" stroke-width="3.5"/>
<text x="700.8" y="972.55" font-size="45" text-anchor="middle" font-weight="bold">*</text>
<text x="771" y="577.5" font-size="36" font-weight="bold">d</text>
<text x="1013" y="630.5" font-size="25" text-anchor="middle" font-weight="bold">NRF2 ChIP</text>
<text x="1013" y="659" font-size="25" text-anchor="middle" font-weight="bold">(hepatocytes)</text>
<line x1="910.5" y1="761.6" x2="910.5" y2="972.8" stroke="#000" stroke-width="2.8"/>
<line x1="904" y1="971" x2="910.5" y2="971" stroke="#000" stroke-width="2.8"/>
<text x="894.4" y="978.2" font-size="20" text-anchor="end" font-weight="bold" transform="matrix(1 0 0 1.06 0 -58.69)">0</text>
<line x1="904" y1="901.9" x2="910.5" y2="901.9" stroke="#000" stroke-width="2.8"/>
<text x="894.4" y="909.1" font-size="20" text-anchor="end" font-weight="bold" transform="matrix(1 0 0 1.06 0 -54.55)">2</text>
<line x1="904" y1="832.7" x2="910.5" y2="832.7" stroke="#000" stroke-width="2.8"/>
<text x="894.4" y="839.9" font-size="20" text-anchor="end" font-weight="bold" transform="matrix(1 0 0 1.06 0 -50.39)">4</text>
<line x1="904" y1="763" x2="910.5" y2="763" stroke="#000" stroke-width="2.8"/>
<text x="894.4" y="770.2" font-size="20" text-anchor="end" font-weight="bold" transform="matrix(1 0 0 1.06 0 -46.21)">6</text>
<line x1="899.6" y1="971.4" x2="1158" y2="971.4" stroke="#000" stroke-width="2.8"/>
<text x="833" y="866.6" font-size="26.7" text-anchor="middle" transform="rotate(-90 833 866.6)">Fold Enrichment</text>
<text x="866" y="866.6" font-size="26.7" text-anchor="middle" transform="rotate(-90 866 866.6)">over IgG</text>
<path d="M949.2 971.4V939.2H1012.2V971.4" fill="#d3d3d3" stroke="#000" stroke-width="4" stroke-linejoin="miter"/>
<path d="M1054.5 971.4V868.8H1116.5V971.4" fill="#c0c0fa" stroke="#000" stroke-width="4" stroke-linejoin="miter"/>
<path d="M981.3 914.4V959M963.8 914.4H998.8M963.8 959H998.8" stroke="#000" stroke-width="1.5" fill="none"/>
<circle cx="981" cy="909.7" r="4.5" fill="#000"/>
<circle cx="981" cy="930.6" r="4.5" fill="#000"/>
<circle cx="981" cy="948.8" r="4.5" fill="#000"/>
<circle cx="981" cy="962" r="4.5" fill="#000"/>
<path d="M1086.2 826V906.3M1068.55 826H1103.85M1068.55 906.3H1103.85" stroke="#5b5bf3" stroke-width="1.6" fill="none"/>
<rect x="1081.8" y="782.8" width="8.4" height="8.4" fill="#5b5bf3"/>
<rect x="1070.3" y="864.5" width="8.4" height="8.4" fill="#5b5bf3"/>
<rect x="1093.8" y="870.8" width="8.4" height="8.4" fill="#5b5bf3"/>
<rect x="1058.5" y="884.6" width="8.4" height="8.4" fill="#5b5bf3"/>
<rect x="1081.8" y="885.8" width="8.4" height="8.4" fill="#5b5bf3"/>
<rect x="1105.5" y="886.8" width="8.4" height="8.4" fill="#5b5bf3"/>
<line x1="987.6" y1="764" x2="1082.8" y2="764" stroke="#000" stroke-width="3.6"/>
<text x="1035.3" y="763.55" font-size="45" text-anchor="middle" font-weight="bold">*</text>
<text x="980.5" y="1006" font-size="26.7" text-anchor="middle">Control</text>
<text x="980.5" y="1039.4" font-size="26.7" text-anchor="middle">ASO</text>
<text x="980.5" y="1072.8" font-size="26.7" text-anchor="middle">HFD</text>
<text x="1085.7" y="1006" font-size="26.7" text-anchor="middle" font-style="italic">Mat1a</text>
<text x="1085.7" y="1039.4" font-size="26.7" text-anchor="middle">ASO</text>
<text x="1085.7" y="1072.8" font-size="26.7" text-anchor="middle">HFD</text>
<text x="1209.4" y="579.8" font-size="36" font-weight="bold">e</text>
<text x="1904" y="630.5" font-size="25" text-anchor="middle" font-weight="bold">NRF2</text>
<text x="1559.3" y="682.7" font-size="25.5" text-anchor="middle">AlbCre-<tspan font-style="italic">Fgf21</tspan></text>
<text x="1485.8" y="741" font-size="23.8" text-anchor="middle">Control</text>
<text x="1485.8" y="769" font-size="23.8" text-anchor="middle">ASO</text>
<text x="1485.8" y="797" font-size="23.8" text-anchor="middle">HFD</text>
<text x="1636" y="741" font-size="23.8" text-anchor="middle" font-style="italic">Mat1a</text>
<text x="1636" y="769" font-size="23.8" text-anchor="middle">ASO</text>
<text x="1636" y="797" font-size="23.8" text-anchor="middle">HFD</text>
<line x1="1414" y1="805.6" x2="1555.5" y2="805.6" stroke="#000" stroke-width="2.4"/>
<line x1="1563.6" y1="805.6" x2="1705" y2="805.6" stroke="#000" stroke-width="2.4"/>
<rect x="1411.1" y="813.9" width="302.6" height="46.8" fill="#f2f2f2"/>
<rect x="1411.1" y="868.3" width="302.6" height="47.4" fill="#fafafa"/>
<g clip-path="url(#ce1)"><g filter="url(#bl2)">
<rect x="1417" y="829" width="36" height="8" fill="rgba(0,0,0,0.12)"/>
<rect x="1417" y="815" width="36" height="14" fill="rgba(60,60,60,0.064)"/>
<rect x="1417" y="837" width="36" height="24" fill="rgba(60,60,60,0.08)"/>
<rect x="1466" y="829" width="36" height="8" fill="rgba(0,0,0,0.8)"/>
<rect x="1466" y="815" width="36" height="14" fill="rgba(60,60,60,0.24)"/>
<rect x="1466" y="837" width="36" height="24" fill="rgba(60,60,60,0.3)"/>
<rect x="1511" y="829" width="35" height="8" fill="rgba(0,0,0,0.6)"/>
<rect x="1511" y="815" width="35" height="14" fill="rgba(60,60,60,0.12)"/>
<rect x="1511" y="837" width="35" height="24" fill="rgba(60,60,60,0.15)"/>
<rect x="1561" y="829" width="43" height="8" fill="rgba(0,0,0,1)"/>
<rect x="1561" y="815" width="43" height="14" fill="rgba(60,60,60,0.27999999999999997)"/>
<rect x="1561" y="837" width="43" height="24" fill="rgba(60,60,60,0.35)"/>
<rect x="1617" y="829" width="36" height="8" fill="rgba(0,0,0,0.85)"/>
<rect x="1617" y="815" width="36" height="14" fill="rgba(60,60,60,0.2)"/>
<rect x="1617" y="837" width="36" height="24" fill="rgba(60,60,60,0.25)"/>
<rect x="1666" y="829" width="38" height="8" fill="rgba(0,0,0,1)"/>
<rect x="1666" y="815" width="38" height="14" fill="rgba(60,60,60,0.32000000000000006)"/>
<rect x="1666" y="837" width="38" height="24" fill="rgba(60,60,60,0.4)"/>
<rect x="1633" y="814" width="4" height="12" fill="rgba(0,0,0,0.7)"/>
</g></g>
<g clip-path="url(#ce2)"><g filter="url(#bl2)">
<rect x="1414" y="882.5" width="42" height="13" rx="16.8" ry="6.5" fill="rgba(0,0,0,1)"/>
<rect x="1462" y="882.0" width="41" height="12" rx="16.4" ry="6.0" fill="rgba(0,0,0,0.95)"/>
<rect x="1508" y="882.0" width="38" height="11" rx="15.2" ry="5.5" fill="rgba(0,0,0,0.75)"/>
<rect x="1552" y="876.0" width="51" height="14" rx="20.4" ry="7.0" fill="rgba(0,0,0,1)"/>
<rect x="1609" y="882.5" width="41" height="11" rx="16.4" ry="5.5" fill="rgba(0,0,0,0.95)"/>
<rect x="1657" y="885.0" width="33" height="10" rx="13.2" ry="5.0" fill="rgba(0,0,0,0.95)"/>
<path d="M1668 886 L1703 895 L1705 903 L1666 896Z" fill="#000"/>
</g></g>
<rect x="1411.1" y="813.9" width="302.6" height="46.8" fill="none" stroke="#848484" stroke-width="2.6"/>
<rect x="1411.1" y="868.3" width="302.6" height="47.4" fill="none" stroke="#848484" stroke-width="2.6"/>
<text x="1338.2" y="852.4" font-size="26.9" text-anchor="end">NRF2</text>
<text x="1344.9" y="907" font-size="26.9" text-anchor="end">Histone H3</text>
<text x="1346.2" y="841.4" font-size="22" textLength="32.1" lengthAdjust="spacingAndGlyphs">100</text>
<line x1="1381.1" y1="833.7" x2="1406.1" y2="833.7" stroke="#000" stroke-width="2.6"/>
<text x="1356.4" y="886.7" font-size="22" textLength="21.9" lengthAdjust="spacingAndGlyphs">20</text>
<line x1="1382.2" y1="878.4" x2="1407.2" y2="878.4" stroke="#000" stroke-width="2.6"/>
<line x1="1830.5" y1="701.7" x2="1830.5" y2="950" stroke="#000" stroke-width="2.6"/>
<line x1="1824" y1="948.7" x2="1830.5" y2="948.7" stroke="#000" stroke-width="2.6"/>
<text x="1818.7" y="955.9" font-size="20" text-anchor="end" font-weight="bold" transform="matrix(1 0 0 1.06 0 -57.35)">0</text>
<line x1="1824" y1="887.5" x2="1830.5" y2="887.5" stroke="#000" stroke-width="2.6"/>
<text x="1818.7" y="894.7" font-size="20" text-anchor="end" font-weight="bold" transform="matrix(1 0 0 1.06 0 -53.68)">1</text>
<line x1="1824" y1="825.9" x2="1830.5" y2="825.9" stroke="#000" stroke-width="2.6"/>
<text x="1818.7" y="833.1" font-size="20" text-anchor="end" font-weight="bold" transform="matrix(1 0 0 1.06 0 -49.99)">2</text>
<line x1="1824" y1="764.2" x2="1830.5" y2="764.2" stroke="#000" stroke-width="2.6"/>
<text x="1818.7" y="771.4" font-size="20" text-anchor="end" font-weight="bold" transform="matrix(1 0 0 1.06 0 -46.28)">3</text>
<line x1="1824" y1="703" x2="1830.5" y2="703" stroke="#000" stroke-width="2.6"/>
<text x="1818.7" y="710.2" font-size="20" text-anchor="end" font-weight="bold" transform="matrix(1 0 0 1.06 0 -42.61)">4</text>
<line x1="1821" y1="948.7" x2="1986" y2="948.7" stroke="#000" stroke-width="2.6"/>
<text x="1763" y="820" font-size="25.5" text-anchor="middle" transform="rotate(-90 1763 820)">Protein levels</text>
<text x="1796" y="820" font-size="25.5" text-anchor="middle" transform="rotate(-90 1796 820)">(fold change)</text>
<path d="M1855.7 948.7V843H1895.6V948.7" fill="#ece5c8" stroke="#000" stroke-width="3.8" stroke-linejoin="miter"/>
<path d="M1921.4 948.7V782.9H1961.5V948.7" fill="#df88f4" stroke="#000" stroke-width="3.8" stroke-linejoin="miter"/>
<path d="M1875.2 811.6V869.1M1864.4 811.6H1886M1864.4 869.1H1886" stroke="#9c8a48" stroke-width="1.8" fill="none"/>
<circle cx="1868" cy="811.6" r="3.9" fill="#9c8a48"/>
<circle cx="1881.8" cy="811.6" r="3.9" fill="#9c8a48"/>
<circle cx="1868" cy="851.9" r="3.9" fill="#9c8a48"/>
<circle cx="1881.8" cy="852.9" r="3.9" fill="#9c8a48"/>
<circle cx="1875.4" cy="875.5" r="3.9" fill="#9c8a48"/>
<path d="M1941.5 744.2V817.9M1930.45 744.2H1952.55M1930.45 817.9H1952.55" stroke="#b322d9" stroke-width="1.8" fill="none"/>
<rect x="1937.45" y="711.35" width="7.5" height="7.5" fill="#b322d9"/>
<rect x="1937.45" y="759.55" width="7.5" height="7.5" fill="#b322d9"/>
<rect x="1937.45" y="780.25" width="7.5" height="7.5" fill="#b322d9"/>
<rect x="1930.85" y="797.55" width="7.5" height="7.5" fill="#b322d9"/>
<rect x="1945.35" y="803.85" width="7.5" height="7.5" fill="#b322d9"/>
<rect x="1930.85" y="809.35" width="7.5" height="7.5" fill="#b322d9"/>
<line x1="1879.4" y1="704.5" x2="1941" y2="704.5" stroke="#000" stroke-width="3.6"/>
<text x="1910" y="706.55" font-size="45" text-anchor="middle" font-weight="bold">*</text>
<text x="1867.5" y="975.7" font-size="23.6" text-anchor="middle">Control</text>
<text x="1867.5" y="1003.7" font-size="23.6" text-anchor="middle">ASO</text>
<text x="1867.5" y="1031.7" font-size="23.6" text-anchor="middle">HFD</text>
<text x="1950.5" y="975.7" font-size="23.6" text-anchor="middle" font-style="italic">Mat1a</text>
<text x="1950.5" y="1003.7" font-size="23.6" text-anchor="middle">ASO</text>
<text x="1950.5" y="1031.7" font-size="23.6" text-anchor="middle">HFD</text>
<line x1="1839" y1="1044.5" x2="1981" y2="1044.5" stroke="#000" stroke-width="2.6"/>
<text x="1911.4" y="1074.3" font-size="25.4" text-anchor="middle">AlbCre-<tspan font-style="italic">Fgf21</tspan></text>
<text x="58.6" y="1226.3" font-size="36" font-weight="bold">f</text>
<text x="346" y="1321" font-size="25.3" text-anchor="middle" font-weight="bold">Liver TG Concentration</text>
<line x1="273" y1="1370.35" x2="273" y2="1634.35" stroke="#000" stroke-width="3.3"/>
<line x1="266.5" y1="1632.7" x2="273" y2="1632.7" stroke="#000" stroke-width="3.3"/>
<text x="258.3" y="1639.9" font-size="20" text-anchor="end" font-weight="bold" transform="matrix(1 0 0 1.06 0 -98.39)">0</text>
<line x1="266.5" y1="1580.4" x2="273" y2="1580.4" stroke="#000" stroke-width="3.3"/>
<text x="258.3" y="1587.6" font-size="20" text-anchor="end" font-weight="bold" transform="matrix(1 0 0 1.06 0 -95.26)">100</text>
<line x1="266.5" y1="1528.4" x2="273" y2="1528.4" stroke="#000" stroke-width="3.3"/>
<text x="258.3" y="1535.6" font-size="20" text-anchor="end" font-weight="bold" transform="matrix(1 0 0 1.06 0 -92.14)">200</text>
<line x1="266.5" y1="1476.4" x2="273" y2="1476.4" stroke="#000" stroke-width="3.3"/>
<text x="258.3" y="1483.6" font-size="20" text-anchor="end" font-weight="bold" transform="matrix(1 0 0 1.06 0 -89.02)">300</text>
<line x1="266.5" y1="1424" x2="273" y2="1424" stroke="#000" stroke-width="3.3"/>
<text x="258.3" y="1431.2" font-size="20" text-anchor="end" font-weight="bold" transform="matrix(1 0 0 1.06 0 -85.87)">400</text>
<line x1="266.5" y1="1372" x2="273" y2="1372" stroke="#000" stroke-width="3.3"/>
<text x="258.3" y="1379.2" font-size="20" text-anchor="end" font-weight="bold" transform="matrix(1 0 0 1.06 0 -82.75)">500</text>
<line x1="261.6" y1="1632.7" x2="461.3" y2="1632.7" stroke="#000" stroke-width="3.3"/>
<text x="205" y="1494" font-size="26.9" text-anchor="middle" transform="rotate(-90 205 1494)">nmol/mg prot.</text>
<path d="M303.3 1632.7V1584H350.4V1632.7" fill="#ece5c8" stroke="#000" stroke-width="4.6" stroke-linejoin="miter"/>
<path d="M384 1632.7V1489.6H429.7V1632.7" fill="#df88f4" stroke="#000" stroke-width="4.6" stroke-linejoin="miter"/>
<path d="M326.7 1558V1603.4M313.9 1558H339.5M313.9 1603.4H339.5" stroke="#9c8a48" stroke-width="2" fill="none"/>
<circle cx="326.7" cy="1544" r="4.3" fill="#9c8a48"/>
<circle cx="335" cy="1577.8" r="4.3" fill="#9c8a48"/>
<circle cx="318.2" cy="1583" r="4.3" fill="#9c8a48"/>
<circle cx="335" cy="1596.5" r="4.3" fill="#9c8a48"/>
<circle cx="318.2" cy="1601.5" r="4.3" fill="#9c8a48"/>
<path d="M407 1431.3V1540.6M394.25 1431.3H419.75M394.25 1540.6H419.75" stroke="#b322d9" stroke-width="2" fill="none"/>
<rect x="411.35" y="1419.75" width="8.5" height="8.5" fill="#b322d9"/>
<rect x="393.75" y="1427.05" width="8.5" height="8.5" fill="#b322d9"/>
<rect x="411.35" y="1454.45" width="8.5" height="8.5" fill="#b322d9"/>
<rect x="393.75" y="1456.75" width="8.5" height="8.5" fill="#b322d9"/>
<rect x="393.75" y="1532.35" width="8.5" height="8.5" fill="#b322d9"/>
<rect x="411.35" y="1538.95" width="8.5" height="8.5" fill="#b322d9"/>
<rect x="393.75" y="1543.75" width="8.5" height="8.5" fill="#b322d9"/>
<line x1="330.7" y1="1406.7" x2="405.4" y2="1406.7" stroke="#000" stroke-width="3.6"/>
<text x="359.5" y="1410.85" font-size="45" text-anchor="middle" font-weight="bold">*</text>
<text x="380.5" y="1410.85" font-size="45" text-anchor="middle" font-weight="bold">*</text>
<text x="325.2" y="1659.1" font-size="23.3" text-anchor="middle">Control</text>
<text x="325.2" y="1687.3" font-size="23.3" text-anchor="middle">ASO</text>
<text x="325.2" y="1715.5" font-size="23.3" text-anchor="middle">HFD</text>
<text x="409.4" y="1659.1" font-size="23.3" text-anchor="middle" font-style="italic">Mat1a</text>
<text x="409.4" y="1687.3" font-size="23.3" text-anchor="middle">ASO</text>
<text x="409.4" y="1715.5" font-size="23.3" text-anchor="middle">HFD</text>
<line x1="298.8" y1="1732" x2="440.5" y2="1732" stroke="#000" stroke-width="3"/>
<text x="371" y="1770.2" font-size="27.5" text-anchor="middle">AlbCre-<tspan font-style="italic">Fgf21</tspan></text>
<text x="782.6" y="1221" font-size="36" font-weight="bold">g</text>
<g class="pw">
<text x="914.8" y="1216.3" font-size="15" text-anchor="middle">THF</text>
<text x="1137.7" y="1215.6" font-size="25.1" text-anchor="middle">Methionine</text>
<text x="1300" y="1275.7" font-size="25.1" text-anchor="middle">SAMe</text>
<text x="1300" y="1363" font-size="25.1" text-anchor="middle">SAH</text>
<text x="1136.6" y="1418.8" font-size="25.1" text-anchor="middle">Homocysteine</text>
<text x="1196" y="1255.6" font-size="14" text-anchor="middle">Dimethyl</text>
<text x="1196" y="1272" font-size="14" text-anchor="middle">glycine</text>
<text x="1194" y="1344.2" font-size="14" text-anchor="middle">Betaine</text>
<text x="901.3" y="1398.8" font-size="14" text-anchor="middle">5-methyl-</text>
<text x="901.3" y="1416" font-size="14" text-anchor="middle">THF</text>
<text x="1137" y="1505.2" font-size="25.1" text-anchor="middle">Cystathionine</text>
<text x="1137" y="1591.8" font-size="25.1" text-anchor="middle">Cysteine</text>
<text x="1137.6" y="1679.4" font-size="25.1" text-anchor="middle">N-glutamylcysteine</text>
<text x="1137" y="1763.3" font-size="25.1" text-anchor="middle">GSH</text>
<text x="1314.5" y="1763.3" font-size="25.1" text-anchor="middle">ROS</text>
<text x="1137.3" y="1843.5" font-size="25.1" text-anchor="middle">GSSG</text>
<rect x="1266.4" y="1185.3" width="55.3" height="31" fill="none" stroke="#000" stroke-width="1.6"/>
<text x="1294.05" y="1206.56" font-size="16" text-anchor="middle">MAT</text>
<rect x="1306.4" y="1292.8" width="50.3" height="30.2" fill="none" stroke="#000" stroke-width="1.6"/>
<text x="1331.55" y="1313.66" font-size="16" text-anchor="middle">MTs</text>
<rect x="1267.5" y="1402.5" width="68.1" height="30.9" fill="none" stroke="#000" stroke-width="1.6"/>
<text x="1301.55" y="1423.71" font-size="16" text-anchor="middle">SAHH</text>
<rect x="1146" y="1284.8" width="68" height="30.2" fill="none" stroke="#000" stroke-width="1.6"/>
<text x="1180" y="1305.66" font-size="16" text-anchor="middle">BHMT</text>
<rect x="986.6" y="1288.4" width="45.4" height="31.4" fill="none" stroke="#000" stroke-width="1.6"/>
<text x="1009.3" y="1309.86" font-size="16" text-anchor="middle">MS</text>
<rect x="1146" y="1436" width="54.8" height="29.5" fill="none" stroke="#000" stroke-width="1.6"/>
<text x="1173.4" y="1456.51" font-size="16" text-anchor="middle">CBS</text>
<rect x="1146" y="1521.6" width="54.8" height="30.2" fill="none" stroke="#000" stroke-width="1.6"/>
<text x="1173.4" y="1542.46" font-size="16" text-anchor="middle">CGL</text>
<rect x="1146.8" y="1610.3" width="55.5" height="30.9" fill="none" stroke="#000" stroke-width="1.6"/>
<text x="1174.55" y="1631.51" font-size="16" text-anchor="middle">GCL</text>
<rect x="1146.8" y="1695" width="44.4" height="30" fill="none" stroke="#000" stroke-width="1.6"/>
<text x="1169" y="1715.76" font-size="16" text-anchor="middle">GS</text>
<rect x="1016.8" y="1781.4" width="45.6" height="30.8" fill="none" stroke="#000" stroke-width="1.6"/>
<text x="1039.6" y="1802.56" font-size="16" text-anchor="middle">GR</text>
<rect x="1212.2" y="1779.4" width="44" height="30.3" fill="none" stroke="#000" stroke-width="1.6"/>
<text x="1234.2" y="1800.31" font-size="16" text-anchor="middle">GP</text>
<path d="M1208 1206.5 C1250 1206 1290 1222 1299 1240" fill="none" stroke="#000" stroke-width="1.3"/>
<path d="M1299.5 1247L1293.83 1240.43L1300.22 1238.35Z" fill="#000"/>
<path d="M1301 1287.7 V1328" fill="none" stroke="#000" stroke-width="1.3"/>
<path d="M1301 1334L1297.64 1326L1304.36 1326Z" fill="#000"/>
<path d="M1300 1376 C1298 1395 1268 1408 1234 1410.5" fill="none" stroke="#000" stroke-width="1.3"/>
<path d="M1228 1410.8L1236.16 1407.86L1235.81 1414.57Z" fill="#000"/>
<path d="M1137.8 1390.4 V1232" fill="none" stroke="#000" stroke-width="1.3"/>
<path d="M1137.8 1226.5L1141.16 1234.5L1134.44 1234.5Z" fill="#000"/>
<path d="M1160.7 1338.7 C1140 1335 1132 1300 1140 1280 C1144 1268 1150 1262 1156 1259" fill="none" stroke="#000" stroke-width="1.3"/>
<path d="M1161 1257L1155.9 1262.62L1153.41 1257.29Z" fill="#000"/>
<path d="M955 1401 C972 1370 978 1320 975 1290 C972 1260 962 1230 946 1215" fill="none" stroke="#000" stroke-width="1.3"/>
<path d="M942 1211L950.03 1214.28L945.28 1219.03Z" fill="#000"/>
<path d="M1047.8 1409.7 C1010 1405 980 1370 975 1306 C972 1260 1010 1212 1060 1207" fill="none" stroke="#000" stroke-width="1.3"/>
<path d="M1066 1206.5L1058.32 1210.54L1057.74 1203.85Z" fill="#000"/>
<path d="M1137.8 1430.5 V1469" fill="none" stroke="#000" stroke-width="1.3"/>
<path d="M1137.8 1475L1134.44 1467L1141.16 1467Z" fill="#000"/>
<path d="M1137.7 1561.7L1134.76 1554.7L1140.64 1554.7Z" fill="#000"/>
<path d="M1137.7 1650L1134.76 1643L1140.64 1643Z" fill="#000"/>
<path d="M1137.7 1689.3 V1729" fill="none" stroke="#000" stroke-width="1.3"/>
<path d="M1137.7 1735L1134.34 1727L1141.06 1727Z" fill="#000"/>
<path d="M1174.2 1755.4 H1279" fill="none" stroke="#000" stroke-width="1.3"/>
<line x1="1279" y1="1748.5" x2="1279" y2="1763.3" stroke="#000" stroke-width="1.5"/>
<path d="M1092 1837.4 C1070 1830 1066 1800 1070.3 1790 C1074 1772 1085 1760 1095 1757" fill="none" stroke="#000" stroke-width="1.3"/>
<path d="M1101 1755.5L1094.63 1761.39L1092.33 1755.08Z" fill="#000"/>
<path d="M1174.7 1756 C1195 1760 1206 1780 1205 1797 C1204 1815 1195 1828 1190 1832" fill="none" stroke="#000" stroke-width="1.3"/>
<path d="M1184.6 1835.6L1189.23 1828.26L1193.08 1833.76Z" fill="#000"/>
</g>
<circle cx="1637.8" cy="1199" r="6.3" fill="#000"/>
<text x="1712.5" y="1191.4" font-size="26.7" text-anchor="middle">Control</text>
<text x="1712.5" y="1223.5" font-size="26.7" text-anchor="middle">ASO HFD</text>
<rect x="1794.75" y="1191.05" width="14.5" height="14.5" fill="#5b5bf3"/>
<text x="1877.4" y="1191.4" font-size="26.7" text-anchor="middle" font-style="italic">Mat1a</text>
<text x="1877.4" y="1223.5" font-size="26.7" text-anchor="middle">ASO HFD</text>
<text x="1781.3" y="1266" font-size="25" text-anchor="middle" font-weight="bold">Glutathione</text>
<line x1="1642.7" y1="1305.1" x2="1642.7" y2="1506.8" stroke="#000" stroke-width="3.4"/>
<line x1="1633.1" y1="1505" x2="1642.7" y2="1505" stroke="#000" stroke-width="3.4"/>
<text x="1627.7" y="1512.2" font-size="20" text-anchor="end" font-weight="bold" transform="matrix(1 0 0 1.06 0 -90.73)">0</text>
<line x1="1633.1" y1="1455.6" x2="1642.7" y2="1455.6" stroke="#000" stroke-width="3.4"/>
<text x="1627.7" y="1462.8" font-size="20" text-anchor="end" font-weight="bold" transform="matrix(1 0 0 1.06 0 -87.77)">2</text>
<line x1="1633.1" y1="1405.9" x2="1642.7" y2="1405.9" stroke="#000" stroke-width="3.4"/>
<text x="1627.7" y="1413.1" font-size="20" text-anchor="end" font-weight="bold" transform="matrix(1 0 0 1.06 0 -84.79)">4</text>
<line x1="1633.1" y1="1356.2" x2="1642.7" y2="1356.2" stroke="#000" stroke-width="3.4"/>
<text x="1627.7" y="1363.4" font-size="20" text-anchor="end" font-weight="bold" transform="matrix(1 0 0 1.06 0 -81.8)">6</text>
<line x1="1633.1" y1="1306.8" x2="1642.7" y2="1306.8" stroke="#000" stroke-width="3.4"/>
<text x="1627.7" y="1314" font-size="20" text-anchor="end" font-weight="bold" transform="matrix(1 0 0 1.06 0 -78.84)">8</text>
<line x1="1633.1" y1="1505.1" x2="1957" y2="1505.1" stroke="#000" stroke-width="3.4"/>
<text x="1604" y="1407" font-size="26.9" text-anchor="middle" transform="rotate(-90 1604 1407)">µmol/g liver</text>
<path d="M1670.75 1505.1V1397.35H1713.65V1505.1" fill="#d3d3d3" stroke="#000" stroke-width="4.5" stroke-linejoin="miter"/>
<path d="M1742.75 1505.1V1474.85H1784.75V1505.1" fill="#c0c0fa" stroke="#000" stroke-width="4.5" stroke-linejoin="miter"/>
<path d="M1814.25 1505.1V1458.25H1856.25V1505.1" fill="#d3d3d3" stroke="#000" stroke-width="4.5" stroke-linejoin="miter"/>
<path d="M1886.45 1505.1V1453.95H1928.35V1505.1" fill="#c0c0fa" stroke="#000" stroke-width="4.5" stroke-linejoin="miter"/>
<line x1="1672" y1="1515.8" x2="1786.5" y2="1515.8" stroke="#000" stroke-width="3"/>
<line x1="1816.4" y1="1515.8" x2="1930.8" y2="1515.8" stroke="#000" stroke-width="3"/>
<text x="1729.3" y="1552.7" font-size="26.7" text-anchor="middle">GSH</text>
<text x="1873" y="1552.7" font-size="26.7" text-anchor="middle">GSSG</text>
<path d="M1691.7 1358.2V1432.2M1680.45 1358.2H1702.95M1680.45 1432.2H1702.95" stroke="#000" stroke-width="2" fill="none"/>
<circle cx="1674" cy="1356.2" r="4.6" fill="#000"/>
<circle cx="1709.8" cy="1361.5" r="4.6" fill="#000"/>
<circle cx="1674" cy="1368.8" r="4.6" fill="#000"/>
<circle cx="1691.7" cy="1391.3" r="4.6" fill="#000"/>
<circle cx="1674" cy="1415.4" r="4.6" fill="#000"/>
<circle cx="1709.8" cy="1415.4" r="4.6" fill="#000"/>
<circle cx="1691.7" cy="1457.8" r="4.6" fill="#000"/>
<path d="M1763.7 1457.3V1488M1752.2 1457.3H1775.2M1752.2 1488H1775.2" stroke="#5b5bf3" stroke-width="1.6" fill="none"/>
<rect x="1740.9" y="1445.1" width="9.4" height="9.4" fill="#5b5bf3"/>
<rect x="1759" y="1448.1" width="9.4" height="9.4" fill="#5b5bf3"/>
<rect x="1740.9" y="1470.9" width="9.4" height="9.4" fill="#5b5bf3"/>
<rect x="1759" y="1472.3" width="9.4" height="9.4" fill="#5b5bf3"/>
<rect x="1776.6" y="1470.9" width="9.4" height="9.4" fill="#5b5bf3"/>
<rect x="1740.9" y="1485.8" width="9.4" height="9.4" fill="#5b5bf3"/>
<rect x="1776.6" y="1480.3" width="9.4" height="9.4" fill="#5b5bf3"/>
<path d="M1837.2 1444.8V1469M1826.7 1444.8H1847.7M1826.7 1469H1847.7" stroke="#000" stroke-width="2" fill="none"/>
<circle cx="1828" cy="1441" r="4.6" fill="#000"/>
<circle cx="1839.7" cy="1442.3" r="4.6" fill="#000"/>
<circle cx="1816" cy="1454.3" r="4.6" fill="#000"/>
<circle cx="1851" cy="1457.3" r="4.6" fill="#000"/>
<circle cx="1828" cy="1461.8" r="4.6" fill="#000"/>
<circle cx="1839.7" cy="1463.6" r="4.6" fill="#000"/>
<circle cx="1833.5" cy="1475.6" r="4.6" fill="#000"/>
<path d="M1908 1416.4V1487M1896.25 1416.4H1919.75M1896.25 1487H1919.75" stroke="#000" stroke-width="2" fill="none"/>
<rect x="1902" y="1369.3" width="9.4" height="9.4" fill="#5b5bf3"/>
<rect x="1902" y="1443.8" width="9.4" height="9.4" fill="#5b5bf3"/>
<rect x="1882.7" y="1462.7" width="9.4" height="9.4" fill="#5b5bf3"/>
<rect x="1892" y="1460.2" width="9.4" height="9.4" fill="#5b5bf3"/>
<rect x="1902" y="1463.3" width="9.4" height="9.4" fill="#5b5bf3"/>
<rect x="1911" y="1460.2" width="9.4" height="9.4" fill="#5b5bf3"/>
<rect x="1919.8" y="1468.2" width="9.4" height="9.4" fill="#5b5bf3"/>
<line x1="1701.2" y1="1347" x2="1758.2" y2="1347" stroke="#000" stroke-width="3.6"/>
<text x="1731.8" y="1344.55" font-size="45" text-anchor="middle" font-weight="bold">*</text>
<text x="1792.8" y="1605.7" font-size="25" text-anchor="middle" font-weight="bold">MDA</text>
<line x1="1676.2" y1="1643.1" x2="1676.2" y2="1845.2" stroke="#000" stroke-width="3.4"/>
<line x1="1666.6" y1="1843.5" x2="1676.2" y2="1843.5" stroke="#000" stroke-width="3.4"/>
<text x="1660.4" y="1850.7" font-size="20" text-anchor="end" font-weight="bold" transform="matrix(1 0 0 1.06 0 -111.04)">0</text>
<line x1="1666.6" y1="1777.3" x2="1676.2" y2="1777.3" stroke="#000" stroke-width="3.4"/>
<text x="1660.4" y="1784.5" font-size="20" text-anchor="end" font-weight="bold" transform="matrix(1 0 0 1.06 0 -107.07)">500</text>
<line x1="1666.6" y1="1711" x2="1676.2" y2="1711" stroke="#000" stroke-width="3.4"/>
<text x="1660.4" y="1718.2" font-size="20" text-anchor="end" font-weight="bold" transform="matrix(1 0 0 1.06 0 -103.09)">1000</text>
<line x1="1666.6" y1="1644.8" x2="1676.2" y2="1644.8" stroke="#000" stroke-width="3.4"/>
<text x="1660.4" y="1652" font-size="20" text-anchor="end" font-weight="bold" transform="matrix(1 0 0 1.06 0 -99.12)">1500</text>
<line x1="1667" y1="1843.5" x2="1924.3" y2="1843.5" stroke="#000" stroke-width="3.4"/>
<text x="1604" y="1744.4" font-size="26.9" text-anchor="middle" transform="rotate(-90 1604 1744.4)">nmol/g liver</text>
<path d="M1717.25 1843.5V1739.45H1780.25V1843.5" fill="#d3d3d3" stroke="#000" stroke-width="4.5" stroke-linejoin="miter"/>
<path d="M1822.25 1843.5V1721.65H1883.75V1843.5" fill="#c0c0fa" stroke="#000" stroke-width="4.5" stroke-linejoin="miter"/>
<path d="M1748.2 1724.8V1748.2M1731 1724.8H1765.4M1731 1748.2H1765.4" stroke="#000" stroke-width="2" fill="none"/>
<circle cx="1747.7" cy="1719.8" r="4.6" fill="#000"/>
<circle cx="1736.9" cy="1731.9" r="4.6" fill="#000"/>
<circle cx="1759" cy="1730.6" r="4.6" fill="#000"/>
<circle cx="1747.7" cy="1743.1" r="4.6" fill="#000"/>
<circle cx="1736.9" cy="1752.7" r="4.6" fill="#000"/>
<circle cx="1759" cy="1752" r="4.6" fill="#000"/>
<path d="M1853 1706.8V1731.9M1835.7 1706.8H1870.3M1835.7 1731.9H1870.3" stroke="#5b5bf3" stroke-width="1.6" fill="none"/>
<rect x="1847.1" y="1694.5" width="9.4" height="9.4" fill="#5b5bf3"/>
<rect x="1825" y="1711.6" width="9.4" height="9.4" fill="#5b5bf3"/>
<rect x="1869.6" y="1707.6" width="9.4" height="9.4" fill="#5b5bf3"/>
<rect x="1847.1" y="1714.1" width="9.4" height="9.4" fill="#5b5bf3"/>
<rect x="1847.1" y="1721.3" width="9.4" height="9.4" fill="#5b5bf3"/>
<rect x="1836.3" y="1730.9" width="9.4" height="9.4" fill="#5b5bf3"/>
<rect x="1858.1" y="1727.9" width="9.4" height="9.4" fill="#5b5bf3"/>
<line x1="1757.7" y1="1683.4" x2="1844.8" y2="1683.4" stroke="#000" stroke-width="3.6"/>
<text x="1801.3" y="1677.55" font-size="45" text-anchor="middle" font-weight="bold">*</text>
<text x="62.7" y="1963" font-size="36" font-weight="bold">h</text>
<text x="663" y="1950" font-size="25.2" text-anchor="middle" font-weight="bold">FGF21 secreted by hepatocytes</text>
<line x1="153.3" y1="1977.5" x2="1138.1" y2="1977.5" stroke="#000" stroke-width="5"/>
<text x="390.6" y="2013.4" font-size="25.2" text-anchor="middle" font-weight="bold">4 hours</text>
<text x="916.8" y="2021.2" font-size="25.2" text-anchor="middle" font-weight="bold">24 hours</text>
<line x1="206.8" y1="2176.8" x2="206.8" y2="2389.6" stroke="#000" stroke-width="3.2"/>
<line x1="198.8" y1="2387.8" x2="206.8" y2="2387.8" stroke="#000" stroke-width="3.2"/>
<text x="195.6" y="2395.83" font-size="22.3" text-anchor="end" font-weight="bold" transform="matrix(1 0 0 1.06 0 -143.75)">0</text>
<line x1="198.8" y1="2336" x2="206.8" y2="2336" stroke="#000" stroke-width="3.2"/>
<text x="195.6" y="2344.03" font-size="22.3" text-anchor="end" font-weight="bold" transform="matrix(1 0 0 1.06 0 -140.64)">200</text>
<line x1="198.8" y1="2283.4" x2="206.8" y2="2283.4" stroke="#000" stroke-width="3.2"/>
<text x="195.6" y="2291.43" font-size="22.3" text-anchor="end" font-weight="bold" transform="matrix(1 0 0 1.06 0 -137.49)">400</text>
<line x1="198.8" y1="2231.3" x2="206.8" y2="2231.3" stroke="#000" stroke-width="3.2"/>
<text x="195.6" y="2239.33" font-size="22.3" text-anchor="end" font-weight="bold" transform="matrix(1 0 0 1.06 0 -134.36)">600</text>
<line x1="198.8" y1="2178.4" x2="206.8" y2="2178.4" stroke="#000" stroke-width="3.2"/>
<text x="195.6" y="2186.43" font-size="22.3" text-anchor="end" font-weight="bold" transform="matrix(1 0 0 1.06 0 -131.19)">800</text>
<line x1="197.4" y1="2388" x2="590.5" y2="2388" stroke="#000" stroke-width="3.1"/>
<text x="140" y="2286.6" font-size="26.8" text-anchor="middle" transform="rotate(-90 140 2286.6)">pg/mg of protein</text>
<path d="M229.65 2388V2278.95H264.05V2388" fill="#d3d3d3" stroke="#000" stroke-width="3.5" stroke-linejoin="miter"/>
<path d="M289.95 2388V2315.95H325.25V2388" fill="#808080" stroke="#000" stroke-width="3.5" stroke-linejoin="miter"/>
<path d="M350.95 2388V2294.95H384.25V2388" fill="#333333" stroke="#000" stroke-width="3.5" stroke-linejoin="miter"/>
<path d="M409.95 2388V2222.75H446.05V2388" fill="#c0c0fa" stroke="#000" stroke-width="3.5" stroke-linejoin="miter"/>
<path d="M471.05 2388V2305.95H505.95V2388" fill="#5a5af5" stroke="#000" stroke-width="3.5" stroke-linejoin="miter"/>
<path d="M530.95 2388V2251.55H566.35V2388" fill="#0000fa" stroke="#000" stroke-width="3.5" stroke-linejoin="miter"/>
<path d="M251.9 2273.7V2280M240.9 2273.7H262.9M240.9 2280H262.9" stroke="#000" stroke-width="1.2" fill="none"/>
<circle cx="234" cy="2272.3" r="3.8" fill="#000"/>
<circle cx="242" cy="2273.2" r="3.8" fill="#000"/>
<circle cx="249.9" cy="2278.5" r="3.8" fill="#000"/>
<circle cx="257.4" cy="2281.1" r="3.8" fill="#000"/>
<circle cx="244" cy="2279" r="3.8" fill="#000"/>
<circle cx="294.4" cy="2312.4" r="3.8" fill="#000"/>
<circle cx="301.9" cy="2312.4" r="3.8" fill="#000"/>
<circle cx="310.7" cy="2312.9" r="3.8" fill="#000"/>
<circle cx="318.6" cy="2312.9" r="3.8" fill="#000"/>
<path d="M367.5 2290.5V2295.5M358.5 2290.5H376.5M358.5 2295.5H376.5" stroke="#000" stroke-width="1.2" fill="none"/>
<circle cx="354.3" cy="2289.4" r="3.8" fill="#000"/>
<circle cx="361.3" cy="2290" r="3.8" fill="#000"/>
<circle cx="368.4" cy="2291" r="3.8" fill="#000"/>
<circle cx="373.7" cy="2292" r="3.8" fill="#000"/>
<circle cx="379" cy="2294.4" r="3.8" fill="#000"/>
<path d="M428 2202.5V2239.7M414.25 2202.5H441.75M414.25 2239.7H441.75" stroke="#0808c8" stroke-width="1.4" fill="none"/>
<rect x="412.15" y="2201.05" width="7.9" height="7.9" fill="#0808c8"/>
<rect x="432.25" y="2202.95" width="7.9" height="7.9" fill="#0808c8"/>
<rect x="421.95" y="2218.85" width="7.9" height="7.9" fill="#0808c8"/>
<rect x="421.95" y="2241.25" width="7.9" height="7.9" fill="#0808c8"/>
<path d="M489 2297.9V2310.6M478.85 2297.9H499.15M478.85 2310.6H499.15" stroke="#0808c8" stroke-width="1.4" fill="none"/>
<rect x="483.25" y="2290.25" width="7.9" height="7.9" fill="#0808c8"/>
<rect x="471.65" y="2298.65" width="7.9" height="7.9" fill="#0808c8"/>
<rect x="483.25" y="2302.95" width="7.9" height="7.9" fill="#0808c8"/>
<rect x="494.95" y="2305.05" width="7.9" height="7.9" fill="#0808c8"/>
<path d="M549.4 2241.8V2256.6M538.9 2241.8H559.9M538.9 2256.6H559.9" stroke="#0808c8" stroke-width="1.4" fill="none"/>
<rect x="543.05" y="2235.25" width="7.9" height="7.9" fill="#0808c8"/>
<rect x="531.65" y="2242.85" width="7.9" height="7.9" fill="#0808c8"/>
<rect x="548.05" y="2243.15" width="7.9" height="7.9" fill="#0808c8"/>
<rect x="554.65" y="2253.75" width="7.9" height="7.9" fill="#0808c8"/>
<line x1="249.8" y1="2269.7" x2="307.7" y2="2269.7" stroke="#000" stroke-width="3.2"/>
<text x="257.5" y="2281.45" font-size="45" text-anchor="middle" font-weight="bold">*</text>
<text x="278.5" y="2281.45" font-size="45" text-anchor="middle" font-weight="bold">*</text>
<text x="299.5" y="2281.45" font-size="45" text-anchor="middle" font-weight="bold">*</text>
<line x1="253.2" y1="2229" x2="368.8" y2="2229" stroke="#000" stroke-width="3.2"/>
<text x="292" y="2239.35" font-size="45" text-anchor="middle" font-weight="bold">*</text>
<text x="313" y="2239.35" font-size="45" text-anchor="middle" font-weight="bold">*</text>
<text x="334" y="2239.35" font-size="45" text-anchor="middle" font-weight="bold">*</text>
<line x1="257.9" y1="2188" x2="422" y2="2188" stroke="#000" stroke-width="3.2"/>
<text x="330" y="2198.35" font-size="45" text-anchor="middle" font-weight="bold">*</text>
<text x="351" y="2198.35" font-size="45" text-anchor="middle" font-weight="bold">*</text>
<line x1="431.8" y1="2188" x2="490" y2="2188" stroke="#000" stroke-width="3.2"/>
<text x="443.2" y="2198.35" font-size="45" text-anchor="middle" font-weight="bold">*</text>
<text x="464.2" y="2198.35" font-size="45" text-anchor="middle" font-weight="bold">*</text>
<text x="485.2" y="2198.35" font-size="45" text-anchor="middle" font-weight="bold">*</text>
<line x1="429.9" y1="2146.8" x2="545" y2="2146.8" stroke="#000" stroke-width="3.2"/>
<text x="486.5" y="2156.05" font-size="45" text-anchor="middle" font-weight="bold">*</text>
<line x1="310.5" y1="2106.7" x2="475" y2="2106.7" stroke="#000" stroke-width="3.2"/>
<text x="396" y="2116.55" font-size="45" text-anchor="middle" font-weight="bold">*</text>
<line x1="378.2" y1="2065" x2="542.3" y2="2065" stroke="#000" stroke-width="3.2"/>
<text x="443.7" y="2075.25" font-size="45" text-anchor="middle" font-weight="bold">*</text>
<text x="464.7" y="2075.25" font-size="45" text-anchor="middle" font-weight="bold">*</text>
<text x="485.7" y="2075.25" font-size="45" text-anchor="middle" font-weight="bold">*</text>
<text x="223.9" y="2433.6" font-size="23.3" text-anchor="end">1 mM NAC</text>
<text x="223.9" y="2470" font-size="23.3" text-anchor="end">5 mM GSH ether</text>
<text x="247" y="2432.1" font-size="27" text-anchor="middle" font-weight="bold">-</text>
<text x="307.7" y="2432.1" font-size="27" text-anchor="middle" font-weight="bold">+</text>
<text x="369" y="2432.1" font-size="27" text-anchor="middle" font-weight="bold">-</text>
<text x="428.3" y="2432.1" font-size="27" text-anchor="middle" font-weight="bold">-</text>
<text x="489" y="2432.1" font-size="27" text-anchor="middle" font-weight="bold">+</text>
<text x="551" y="2432.1" font-size="27" text-anchor="middle" font-weight="bold">-</text>
<text x="247.8" y="2470.3" font-size="27" text-anchor="middle" font-weight="bold">-</text>
<text x="308.5" y="2470.3" font-size="27" text-anchor="middle" font-weight="bold">-</text>
<text x="369.8" y="2470.3" font-size="27" text-anchor="middle" font-weight="bold">+</text>
<text x="429.1" y="2470.3" font-size="27" text-anchor="middle" font-weight="bold">-</text>
<text x="489.8" y="2470.3" font-size="27" text-anchor="middle" font-weight="bold">-</text>
<text x="551.8" y="2470.3" font-size="27" text-anchor="middle" font-weight="bold">+</text>
<line x1="231" y1="2481" x2="386" y2="2481" stroke="#000" stroke-width="3.3"/>
<line x1="415.3" y1="2481" x2="570.4" y2="2481" stroke="#000" stroke-width="3.3"/>
<text x="308.5" y="2515.8" font-size="26.9" text-anchor="middle">Control ASO</text>
<text x="308.5" y="2547.5" font-size="26.9" text-anchor="middle">HFD</text>
<text x="493.5" y="2515.8" font-size="26.9" text-anchor="middle"><tspan font-style="italic">Mat1a</tspan> ASO</text>
<text x="493.5" y="2547.5" font-size="26.9" text-anchor="middle">HFD</text>
<line x1="751.4" y1="2151.8" x2="751.4" y2="2378.1" stroke="#000" stroke-width="3.2"/>
<line x1="743.4" y1="2376.5" x2="751.4" y2="2376.5" stroke="#000" stroke-width="3.2"/>
<text x="739.8" y="2384.53" font-size="22.3" text-anchor="end" font-weight="bold" transform="matrix(1 0 0 1.06 0 -143.07)">0</text>
<line x1="743.4" y1="2320.8" x2="751.4" y2="2320.8" stroke="#000" stroke-width="3.2"/>
<text x="739.8" y="2328.83" font-size="22.3" text-anchor="end" font-weight="bold" transform="matrix(1 0 0 1.06 0 -139.73)">1000</text>
<line x1="743.4" y1="2265.5" x2="751.4" y2="2265.5" stroke="#000" stroke-width="3.2"/>
<text x="739.8" y="2273.53" font-size="22.3" text-anchor="end" font-weight="bold" transform="matrix(1 0 0 1.06 0 -136.41)">2000</text>
<line x1="743.4" y1="2210" x2="751.4" y2="2210" stroke="#000" stroke-width="3.2"/>
<text x="739.8" y="2218.03" font-size="22.3" text-anchor="end" font-weight="bold" transform="matrix(1 0 0 1.06 0 -133.08)">3000</text>
<line x1="743.4" y1="2153.4" x2="751.4" y2="2153.4" stroke="#000" stroke-width="3.2"/>
<text x="739.8" y="2161.43" font-size="22.3" text-anchor="end" font-weight="bold" transform="matrix(1 0 0 1.06 0 -129.69)">4000</text>
<line x1="741.5" y1="2376.5" x2="1136.4" y2="2376.5" stroke="#000" stroke-width="3.1"/>
<text x="662" y="2283" font-size="26.8" text-anchor="middle" transform="rotate(-90 662 2283)">pg/mg of protein</text>
<path d="M773.95 2376.5V2313.85H809.05V2376.5" fill="#d3d3d3" stroke="#000" stroke-width="3.5" stroke-linejoin="miter"/>
<path d="M833.95 2376.5V2245.35H869.85V2376.5" fill="#808080" stroke="#000" stroke-width="3.5" stroke-linejoin="miter"/>
<path d="M894.95 2376.5V2314.35H930.15V2376.5" fill="#333333" stroke="#000" stroke-width="3.5" stroke-linejoin="miter"/>
<path d="M956.05 2376.5V2267.45H991.05V2376.5" fill="#c0c0fa" stroke="#000" stroke-width="3.5" stroke-linejoin="miter"/>
<path d="M1016.05 2376.5V2340.15H1051.65V2376.5" fill="#5a5af5" stroke="#000" stroke-width="3.5" stroke-linejoin="miter"/>
<path d="M1076.85 2376.5V2344.35H1111.95V2376.5" fill="#0000fa" stroke="#000" stroke-width="3.5" stroke-linejoin="miter"/>
<path d="M791.4 2299.4V2324.3M780.6 2299.4H802.2M780.6 2324.3H802.2" stroke="#000" stroke-width="1.2" fill="none"/>
<circle cx="778.2" cy="2301" r="3.8" fill="#000"/>
<circle cx="790.4" cy="2306.3" r="3.8" fill="#000"/>
<circle cx="802" cy="2306.6" r="3.8" fill="#000"/>
<circle cx="790.4" cy="2329" r="3.8" fill="#000"/>
<path d="M852.2 2225.1V2262.6M841.75 2225.1H862.65M841.75 2262.6H862.65" stroke="#000" stroke-width="1.2" fill="none"/>
<circle cx="850.9" cy="2216.1" r="3.8" fill="#000"/>
<circle cx="850.9" cy="2243.4" r="3.8" fill="#000"/>
<circle cx="840.9" cy="2251.8" r="3.8" fill="#000"/>
<circle cx="860.7" cy="2258.4" r="3.8" fill="#000"/>
<path d="M912 2304.2V2321.8M900.4 2304.2H923.6M900.4 2321.8H923.6" stroke="#000" stroke-width="1.2" fill="none"/>
<circle cx="899.8" cy="2306.1" r="3.8" fill="#000"/>
<circle cx="911.3" cy="2306.3" r="3.8" fill="#000"/>
<circle cx="923.6" cy="2310.3" r="3.8" fill="#000"/>
<circle cx="911.3" cy="2324.8" r="3.8" fill="#000"/>
<path d="M973.2 2256.9V2274.7M963.2 2256.9H983.2M963.2 2274.7H983.2" stroke="#0808c8" stroke-width="1.4" fill="none"/>
<rect x="957.95" y="2252.95" width="7.9" height="7.9" fill="#0808c8"/>
<rect x="957.95" y="2258.75" width="7.9" height="7.9" fill="#0808c8"/>
<rect x="978.05" y="2255.05" width="7.9" height="7.9" fill="#0808c8"/>
<rect x="978.05" y="2273.05" width="7.9" height="7.9" fill="#0808c8"/>
<path d="M1035 2334.1V2338M1025.25 2334.1H1044.75M1025.25 2338H1044.75" stroke="#0808c8" stroke-width="1.4" fill="none"/>
<rect x="1016.95" y="2327.85" width="7.9" height="7.9" fill="#0808c8"/>
<rect x="1024.55" y="2333.35" width="7.9" height="7.9" fill="#0808c8"/>
<rect x="1030.95" y="2333.85" width="7.9" height="7.9" fill="#0808c8"/>
<rect x="1040.45" y="2335.45" width="7.9" height="7.9" fill="#0808c8"/>
<path d="M1094.4 2329.7V2355.5M1084.1 2329.7H1104.7M1084.1 2355.5H1104.7" stroke="#0808c8" stroke-width="1.4" fill="none"/>
<rect x="1079.05" y="2326.45" width="7.9" height="7.9" fill="#0808c8"/>
<rect x="1099.65" y="2326.45" width="7.9" height="7.9" fill="#0808c8"/>
<rect x="1079.05" y="2346.05" width="7.9" height="7.9" fill="#0808c8"/>
<rect x="1099.65" y="2351.35" width="7.9" height="7.9" fill="#0808c8"/>
<line x1="789.4" y1="2204.1" x2="847.3" y2="2204.1" stroke="#000" stroke-width="3.2"/>
<text x="808.2" y="2214.35" font-size="45" text-anchor="middle" font-weight="bold">*</text>
<text x="829.2" y="2214.35" font-size="45" text-anchor="middle" font-weight="bold">*</text>
<line x1="792.2" y1="2160.3" x2="956.7" y2="2160.3" stroke="#000" stroke-width="3.2"/>
<text x="850.9" y="2168.85" font-size="45" text-anchor="middle" font-weight="bold">*</text>
<text x="871.9" y="2168.85" font-size="45" text-anchor="middle" font-weight="bold">*</text>
<text x="892.9" y="2168.85" font-size="45" text-anchor="middle" font-weight="bold">*</text>
<line x1="850.5" y1="2113.9" x2="1015" y2="2113.9" stroke="#000" stroke-width="3.2"/>
<text x="909.6" y="2122.25" font-size="45" text-anchor="middle" font-weight="bold">*</text>
<text x="930.6" y="2122.25" font-size="45" text-anchor="middle" font-weight="bold">*</text>
<text x="951.6" y="2122.25" font-size="45" text-anchor="middle" font-weight="bold">*</text>
<line x1="921" y1="2067.8" x2="1086" y2="2067.8" stroke="#000" stroke-width="3.2"/>
<text x="979.9" y="2076.15" font-size="45" text-anchor="middle" font-weight="bold">*</text>
<text x="1000.9" y="2076.15" font-size="45" text-anchor="middle" font-weight="bold">*</text>
<text x="1021.9" y="2076.15" font-size="45" text-anchor="middle" font-weight="bold">*</text>
<line x1="971.4" y1="2196.6" x2="1086.8" y2="2196.6" stroke="#000" stroke-width="3.2"/>
<text x="1010.6" y="2204.45" font-size="45" text-anchor="middle" font-weight="bold">*</text>
<text x="1031.6" y="2204.45" font-size="45" text-anchor="middle" font-weight="bold">*</text>
<text x="1052.6" y="2204.45" font-size="45" text-anchor="middle" font-weight="bold">*</text>
<line x1="968" y1="2240.2" x2="1025.7" y2="2240.2" stroke="#000" stroke-width="3.2"/>
<text x="976.1" y="2249.55" font-size="45" text-anchor="middle" font-weight="bold">*</text>
<text x="997.1" y="2249.55" font-size="45" text-anchor="middle" font-weight="bold">*</text>
<text x="1018.1" y="2249.55" font-size="45" text-anchor="middle" font-weight="bold">*</text>
<text x="790.9" y="2421.2" font-size="27" text-anchor="middle" font-weight="bold">-</text>
<text x="851.9" y="2421.2" font-size="27" text-anchor="middle" font-weight="bold">+</text>
<text x="913.5" y="2421.2" font-size="27" text-anchor="middle" font-weight="bold">-</text>
<text x="973.5" y="2421.2" font-size="27" text-anchor="middle" font-weight="bold">-</text>
<text x="1034" y="2421.2" font-size="27" text-anchor="middle" font-weight="bold">+</text>
<text x="1095.8" y="2421.2" font-size="27" text-anchor="middle" font-weight="bold">-</text>
<text x="792.7" y="2461.7" font-size="27" text-anchor="middle" font-weight="bold">-</text>
<text x="853.7" y="2461.7" font-size="27" text-anchor="middle" font-weight="bold">-</text>
<text x="915.3" y="2461.7" font-size="27" text-anchor="middle" font-weight="bold">+</text>
<text x="975.3" y="2461.7" font-size="27" text-anchor="middle" font-weight="bold">-</text>
<text x="1035.8" y="2461.7" font-size="27" text-anchor="middle" font-weight="bold">-</text>
<text x="1097.6" y="2461.7" font-size="27" text-anchor="middle" font-weight="bold">+</text>
<line x1="778.5" y1="2474.9" x2="934.7" y2="2474.9" stroke="#000" stroke-width="3"/>
<line x1="963" y1="2474.9" x2="1119.5" y2="2474.9" stroke="#000" stroke-width="3"/>
<text x="857.2" y="2513" font-size="26.9" text-anchor="middle">Control ASO</text>
<text x="857.2" y="2544" font-size="26.9" text-anchor="middle">HFD</text>
<text x="1041.2" y="2513" font-size="26.9" text-anchor="middle"><tspan font-style="italic">Mat1a</tspan> ASO</text>
<text x="1041.2" y="2544" font-size="26.9" text-anchor="middle">HFD</text>
<text x="1254" y="1961.7" font-size="36" font-weight="bold">i</text>
<text x="1639.6" y="1949.8" font-size="25.2" text-anchor="middle" font-weight="bold">FGF21 secreted by hepatocytes</text>
<line x1="1348.4" y1="1978" x2="1969.9" y2="1978" stroke="#000" stroke-width="5"/>
<text x="1551.6" y="2018.8" font-size="25.2" text-anchor="middle" font-weight="bold">4 hours</text>
<text x="1818.5" y="2018.8" font-size="25.2" text-anchor="middle" font-weight="bold">24 hours</text>
<line x1="1440" y1="2110.3" x2="1440" y2="2384.2" stroke="#000" stroke-width="3"/>
<line x1="1431.5" y1="2382.2" x2="1440" y2="2382.2" stroke="#000" stroke-width="3"/>
<text x="1426.5" y="2390.3" font-size="22.5" text-anchor="end" font-weight="bold" transform="matrix(1 0 0 1.06 0 -143.42)">0</text>
<line x1="1431.5" y1="2314.6" x2="1440" y2="2314.6" stroke="#000" stroke-width="3"/>
<text x="1426.5" y="2322.7" font-size="22.5" text-anchor="end" font-weight="bold" transform="matrix(1 0 0 1.06 0 -139.36)">1000</text>
<line x1="1431.5" y1="2247" x2="1440" y2="2247" stroke="#000" stroke-width="3"/>
<text x="1426.5" y="2255.1" font-size="22.5" text-anchor="end" font-weight="bold" transform="matrix(1 0 0 1.06 0 -135.31)">2000</text>
<line x1="1431.5" y1="2179.4" x2="1440" y2="2179.4" stroke="#000" stroke-width="3"/>
<text x="1426.5" y="2187.5" font-size="22.5" text-anchor="end" font-weight="bold" transform="matrix(1 0 0 1.06 0 -131.25)">3000</text>
<line x1="1431.5" y1="2111.8" x2="1440" y2="2111.8" stroke="#000" stroke-width="3"/>
<text x="1426.5" y="2119.9" font-size="22.5" text-anchor="end" font-weight="bold" transform="matrix(1 0 0 1.06 0 -127.19)">4000</text>
<line x1="1430" y1="2382.7" x2="1972" y2="2382.7" stroke="#000" stroke-width="2.9"/>
<text x="1366" y="2249.2" font-size="26.8" text-anchor="middle" transform="rotate(-90 1366 2249.2)">pg/mg of protein</text>
<path d="M1462.15 2382.7V2324.35H1495.85V2382.7" fill="#d3d3d3" stroke="#000" stroke-width="3.7" stroke-linejoin="miter"/>
<path d="M1520.95 2382.7V2322.25H1554.65V2382.7" fill="#a3a2a7" stroke="#000" stroke-width="3.7" stroke-linejoin="miter"/>
<path d="M1579.95 2382.7V2244.25H1613.05V2382.7" fill="#c0c0fc" stroke="#000" stroke-width="3.7" stroke-linejoin="miter"/>
<path d="M1639.15 2382.7V2323.65H1672.55V2382.7" fill="#8a8afc" stroke="#000" stroke-width="3.7" stroke-linejoin="miter"/>
<path d="M1736.55 2382.7V2315.35H1770.05V2382.7" fill="#d3d3d3" stroke="#000" stroke-width="3.7" stroke-linejoin="miter"/>
<path d="M1795.75 2382.7V2234.95H1828.85V2382.7" fill="#a3a2a7" stroke="#000" stroke-width="3.7" stroke-linejoin="miter"/>
<path d="M1854.15 2382.7V2225.45H1887.65V2382.7" fill="#c0c0fc" stroke="#000" stroke-width="3.7" stroke-linejoin="miter"/>
<path d="M1913.25 2382.7V2319.85H1946.75V2382.7" fill="#8a8afc" stroke="#000" stroke-width="3.7" stroke-linejoin="miter"/>
<path d="M1478.8 2311.2V2334M1468.75 2311.2H1488.85M1468.75 2334H1488.85" stroke="#000" stroke-width="1.3" fill="none"/>
<circle cx="1479.6" cy="2302.7" r="4.3" fill="#000"/>
<circle cx="1468.5" cy="2317.6" r="4.3" fill="#000"/>
<circle cx="1475.9" cy="2323.3" r="4.3" fill="#000"/>
<circle cx="1483.3" cy="2326.2" r="4.3" fill="#000"/>
<circle cx="1490.3" cy="2332.4" r="4.3" fill="#000"/>
<path d="M1539 2313V2325.4M1529 2313H1549M1529 2325.4H1549" stroke="#000" stroke-width="1.3" fill="none"/>
<circle cx="1528.4" cy="2308.5" r="4.3" fill="#000"/>
<circle cx="1533.1" cy="2313.9" r="4.3" fill="#000"/>
<circle cx="1539.7" cy="2318" r="4.3" fill="#000"/>
<circle cx="1545.9" cy="2321.3" r="4.3" fill="#000"/>
<circle cx="1550.8" cy="2325.4" r="4.3" fill="#000"/>
<path d="M1596.6 2180.9V2303.5M1586.55 2180.9H1606.65M1586.55 2303.5H1606.65" stroke="#0000fa" stroke-width="1.5" fill="none"/>
<rect x="1592.3" y="2151.5" width="8.6" height="8.6" fill="#0000fa"/>
<rect x="1582.2" y="2212.6" width="8.6" height="8.6" fill="#0000fa"/>
<rect x="1601.6" y="2227.8" width="8.6" height="8.6" fill="#0000fa"/>
<rect x="1592.3" y="2282.3" width="8.6" height="8.6" fill="#0000fa"/>
<rect x="1592.3" y="2307.6" width="8.6" height="8.6" fill="#0000fa"/>
<path d="M1656 2313.4V2327M1647 2313.4H1665M1647 2327H1665" stroke="#0000fa" stroke-width="1.5" fill="none"/>
<rect x="1651.2" y="2305.8" width="8.6" height="8.6" fill="#0000fa"/>
<rect x="1640.4" y="2312.9" width="8.6" height="8.6" fill="#0000fa"/>
<rect x="1645.9" y="2312.9" width="8.6" height="8.6" fill="#0000fa"/>
<rect x="1657.3" y="2315.2" width="8.6" height="8.6" fill="#0000fa"/>
<rect x="1661.9" y="2323.5" width="8.6" height="8.6" fill="#0000fa"/>
<path d="M1753.6 2300V2326.8M1743.35 2300H1763.85M1743.35 2326.8H1763.85" stroke="#000" stroke-width="1.3" fill="none"/>
<circle cx="1747.6" cy="2291.2" r="4.3" fill="#000"/>
<circle cx="1758.6" cy="2306.2" r="4.3" fill="#000"/>
<circle cx="1742.2" cy="2315.3" r="4.3" fill="#000"/>
<circle cx="1753.2" cy="2317.3" r="4.3" fill="#000"/>
<circle cx="1764.5" cy="2327.4" r="4.3" fill="#000"/>
<path d="M1812.4 2207.2V2256.5M1802.2 2207.2H1822.6M1802.2 2256.5H1822.6" stroke="#000" stroke-width="1.3" fill="none"/>
<circle cx="1812.2" cy="2195.3" r="4.3" fill="#000"/>
<circle cx="1802.3" cy="2219.3" r="4.3" fill="#000"/>
<circle cx="1822.3" cy="2229.5" r="4.3" fill="#000"/>
<circle cx="1802" cy="2252.4" r="4.3" fill="#000"/>
<circle cx="1822.3" cy="2255.1" r="4.3" fill="#000"/>
<path d="M1871.2 2192.3V2253.4M1861.05 2192.3H1881.35M1861.05 2253.4H1881.35" stroke="#0000fa" stroke-width="1.5" fill="none"/>
<rect x="1860.4" y="2178.5" width="8.6" height="8.6" fill="#0000fa"/>
<rect x="1872.3" y="2191" width="8.6" height="8.6" fill="#0000fa"/>
<rect x="1855.7" y="2230.6" width="8.6" height="8.6" fill="#0000fa"/>
<rect x="1866.7" y="2242.1" width="8.6" height="8.6" fill="#0000fa"/>
<rect x="1877.5" y="2243.1" width="8.6" height="8.6" fill="#0000fa"/>
<path d="M1929.3 2308.1V2326.4M1920.8 2308.1H1937.8M1920.8 2326.4H1937.8" stroke="#0000fa" stroke-width="1.5" fill="none"/>
<rect x="1925.7" y="2300.2" width="8.6" height="8.6" fill="#0000fa"/>
<rect x="1914.2" y="2304.9" width="8.6" height="8.6" fill="#0000fa"/>
<rect x="1918.9" y="2309.6" width="8.6" height="8.6" fill="#0000fa"/>
<rect x="1929.1" y="2319.8" width="8.6" height="8.6" fill="#0000fa"/>
<rect x="1936.5" y="2320.4" width="8.6" height="8.6" fill="#0000fa"/>
<line x1="1482.6" y1="2145.6" x2="1591.1" y2="2145.6" stroke="#000" stroke-width="3.4"/>
<text x="1538.6" y="2150.25" font-size="45" text-anchor="middle" font-weight="bold">*</text>
<line x1="1603.3" y1="2146.2" x2="1656.8" y2="2146.2" stroke="#000" stroke-width="3.4"/>
<text x="1630.7" y="2150.25" font-size="45" text-anchor="middle" font-weight="bold">*</text>
<line x1="1753.3" y1="2121.7" x2="1861" y2="2121.7" stroke="#000" stroke-width="3.4"/>
<text x="1784.2" y="2126.25" font-size="45" text-anchor="middle" font-weight="bold">*</text>
<text x="1805.2" y="2126.25" font-size="45" text-anchor="middle" font-weight="bold">*</text>
<text x="1826.2" y="2126.25" font-size="45" text-anchor="middle" font-weight="bold">*</text>
<line x1="1809.7" y1="2070.9" x2="1917.7" y2="2070.9" stroke="#000" stroke-width="3.4"/>
<text x="1844" y="2073.25" font-size="45" text-anchor="middle" font-weight="bold">*</text>
<text x="1865" y="2073.25" font-size="45" text-anchor="middle" font-weight="bold">*</text>
<text x="1886" y="2073.25" font-size="45" text-anchor="middle" font-weight="bold">*</text>
<line x1="1753.3" y1="2174.7" x2="1806.9" y2="2174.7" stroke="#000" stroke-width="3.4"/>
<text x="1760.5" y="2176.15" font-size="45" text-anchor="middle" font-weight="bold">*</text>
<text x="1781.5" y="2176.15" font-size="45" text-anchor="middle" font-weight="bold">*</text>
<text x="1802.5" y="2176.15" font-size="45" text-anchor="middle" font-weight="bold">*</text>
<line x1="1868.3" y1="2174.7" x2="1921.9" y2="2174.7" stroke="#000" stroke-width="3.4"/>
<text x="1876.1" y="2176.15" font-size="45" text-anchor="middle" font-weight="bold">*</text>
<text x="1897.1" y="2176.15" font-size="45" text-anchor="middle" font-weight="bold">*</text>
<text x="1918.1" y="2176.15" font-size="45" text-anchor="middle" font-weight="bold">*</text>
<text x="1442.8" y="2427" font-size="23.3" text-anchor="end">6 mM SAMe</text>
<text x="1479.2" y="2428.5" font-size="27" text-anchor="middle" font-weight="bold">-</text>
<text x="1538.5" y="2428.5" font-size="27" text-anchor="middle" font-weight="bold">+</text>
<text x="1597.7" y="2428.5" font-size="27" text-anchor="middle" font-weight="bold">-</text>
<text x="1655.6" y="2428.5" font-size="27" text-anchor="middle" font-weight="bold">+</text>
<text x="1755.7" y="2428.5" font-size="27" text-anchor="middle" font-weight="bold">-</text>
<text x="1812.8" y="2428.5" font-size="27" text-anchor="middle" font-weight="bold">+</text>
<text x="1873.3" y="2428.5" font-size="27" text-anchor="middle" font-weight="bold">-</text>
<text x="1932.2" y="2428.5" font-size="27" text-anchor="middle" font-weight="bold">+</text>
<line x1="1471.3" y1="2445.8" x2="1549.4" y2="2445.8" stroke="#000" stroke-width="2.6"/>
<line x1="1589.8" y1="2445.8" x2="1668" y2="2445.8" stroke="#000" stroke-width="2.6"/>
<line x1="1746" y1="2445.8" x2="1823.7" y2="2445.8" stroke="#000" stroke-width="2.6"/>
<line x1="1864.6" y1="2445.8" x2="1943.6" y2="2445.8" stroke="#000" stroke-width="2.6"/>
<text x="1506.4" y="2477.4" font-size="26.6" text-anchor="middle">Control</text>
<text x="1509.4" y="2509" font-size="26.6" text-anchor="middle">ASO</text>
<text x="1509.4" y="2541" font-size="26.6" text-anchor="middle">HFD</text>
<text x="1626.2" y="2477.4" font-size="26.6" text-anchor="middle" font-style="italic">Mat1a</text>
<text x="1629.2" y="2509" font-size="26.6" text-anchor="middle">ASO</text>
<text x="1629.2" y="2541" font-size="26.6" text-anchor="middle">HFD</text>
<text x="1781.2" y="2477.4" font-size="26.6" text-anchor="middle">Control</text>
<text x="1784.2" y="2509" font-size="26.6" text-anchor="middle">ASO</text>
<text x="1784.2" y="2541" font-size="26.6" text-anchor="middle">HFD</text>
<text x="1900.5" y="2477.4" font-size="26.6" text-anchor="middle" font-style="italic">Mat1a</text>
<text x="1903.5" y="2509" font-size="26.6" text-anchor="middle">ASO</text>
<text x="1903.5" y="2541" font-size="26.6" text-anchor="middle">HFD</text>
</svg></body></html>
